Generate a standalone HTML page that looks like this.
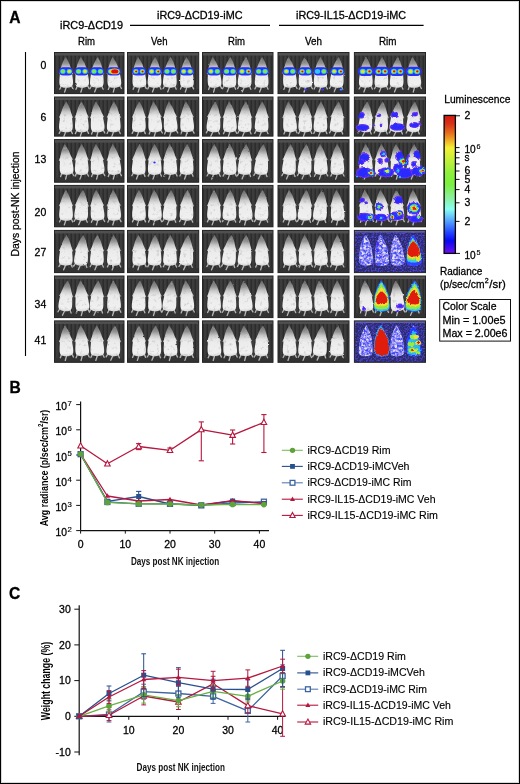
<!DOCTYPE html>
<html><head><meta charset="utf-8"><style>
html,body{margin:0;padding:0;background:#fff;}
svg{display:block;font-family:"Liberation Sans", sans-serif;will-change:transform;}
</style></head><body>
<svg width="520" height="784" viewBox="0 0 520 784">
<defs>
<filter id="bl" x="-30%" y="-30%" width="160%" height="160%"><feGaussianBlur stdDeviation="0.55"/></filter>
<filter id="bl2" x="-50%" y="-50%" width="200%" height="200%"><feGaussianBlur stdDeviation="1.1"/></filter>
<linearGradient id="mg" x1="0" y1="0" x2="0" y2="1"><stop offset="0" stop-color="#686868"/><stop offset="0.2" stop-color="#929292"/><stop offset="0.33" stop-color="#c8c8c8"/><stop offset="0.46" stop-color="#e6e6e6"/><stop offset="0.55" stop-color="#ececec"/><stop offset="0.9" stop-color="#f0f0f0"/><stop offset="1" stop-color="#d4d4d4"/></linearGradient>
<filter id="mtex" x="-5%" y="-5%" width="110%" height="110%" color-interpolation-filters="sRGB"><feTurbulence type="fractalNoise" baseFrequency="0.28" numOctaves="2" seed="21" result="dt"/><feDisplacementMap in="SourceGraphic" in2="dt" scale="1.6" xChannelSelector="R" yChannelSelector="G" result="sg"/><feTurbulence type="fractalNoise" baseFrequency="0.3" numOctaves="2" seed="4" result="n"/><feColorMatrix in="n" type="matrix" values="0 0 0 0 0.7  0 0 0 0 0.7  0 0 0 0 0.7  -2.0 0 0 0 0.84" result="g"/><feComposite in="g" in2="sg" operator="in" result="gs"/><feMerge result="m"><feMergeNode in="sg"/><feMergeNode in="gs"/></feMerge><feGaussianBlur in="m" stdDeviation="0.62"/></filter>
<filter id="spk" x="0" y="0" width="100%" height="100%" color-interpolation-filters="sRGB"><feTurbulence type="fractalNoise" baseFrequency="0.42" numOctaves="2" seed="5" result="n"/><feColorMatrix in="n" type="matrix" values="0 0 0 0 0.24  0 0 0 0 0.3  0 0 0 0 0.95  3.6 0 0 0 -1.45" result="b"/><feColorMatrix in="n" type="matrix" values="0 0 0 0 0.58  0 0 0 0 0.5  0 0 0 0 0.96  0 3.6 0 0 -1.4" result="p"/><feComposite in="b" in2="SourceAlpha" operator="in" result="bs"/><feComposite in="p" in2="SourceAlpha" operator="in" result="ps"/><feMerge result="m"><feMergeNode in="SourceGraphic"/><feMergeNode in="ps"/><feMergeNode in="bs"/></feMerge><feGaussianBlur in="m" stdDeviation="0.5"/></filter>
<filter id="spk2" x="0" y="0" width="100%" height="100%" color-interpolation-filters="sRGB"><feTurbulence type="fractalNoise" baseFrequency="0.6" numOctaves="2" seed="9" result="n"/><feColorMatrix in="n" type="matrix" values="0 0 0 0 0.24  0 0 0 0 0.26  0 0 0 0 0.9  3.2 0 0 0 -1.55" result="b"/><feColorMatrix in="n" type="matrix" values="0 0 0 0 0.4  0 0 0 0 0.3  0 0 0 0 0.8  0 3.2 0 0 -1.55" result="p"/><feComposite in="b" in2="SourceAlpha" operator="in" result="bs"/><feComposite in="p" in2="SourceAlpha" operator="in" result="ps"/><feMerge result="m"><feMergeNode in="SourceGraphic"/><feMergeNode in="ps"/><feMergeNode in="bs"/></feMerge><feGaussianBlur in="m" stdDeviation="0.5"/></filter>
<radialGradient id="hot" cx="50%" cy="50%" r="50%"><stop offset="0" stop-color="#e01010"/><stop offset="0.3" stop-color="#e8d020"/><stop offset="0.5" stop-color="#70e040"/><stop offset="0.68" stop-color="#30c8f0"/><stop offset="0.82" stop-color="#1838ff"/><stop offset="1" stop-color="#2010f0" stop-opacity="0"/></radialGradient>
<radialGradient id="warm" cx="50%" cy="50%" r="50%"><stop offset="0" stop-color="#a0e040"/><stop offset="0.45" stop-color="#40d0c0"/><stop offset="0.75" stop-color="#1840ff"/><stop offset="1" stop-color="#2010f0" stop-opacity="0"/></radialGradient>
<radialGradient id="cool" cx="50%" cy="50%" r="50%"><stop offset="0" stop-color="#3030ff"/><stop offset="0.7" stop-color="#5020f0" stop-opacity="0.9"/><stop offset="1" stop-color="#6020e0" stop-opacity="0"/></radialGradient>
<linearGradient id="cbar" x1="0" y1="0" x2="0" y2="1">
 <stop offset="0" stop-color="#d3190f"/><stop offset="0.06" stop-color="#d8301a"/><stop offset="0.13" stop-color="#e6701e"/><stop offset="0.19" stop-color="#f0b82a"/><stop offset="0.235" stop-color="#f4f034"/><stop offset="0.33" stop-color="#c0f03a"/><stop offset="0.42" stop-color="#8cf03c"/><stop offset="0.5" stop-color="#7cf040"/><stop offset="0.6" stop-color="#8cf0a0"/><stop offset="0.68" stop-color="#88fff0"/><stop offset="0.76" stop-color="#58a8ff"/><stop offset="0.85" stop-color="#2244ff"/><stop offset="0.91" stop-color="#0808f0"/><stop offset="1" stop-color="#7010f0"/>
</linearGradient>
<pattern id="stripes" width="4" height="50" patternUnits="userSpaceOnUse"><rect width="4" height="50" fill="#3c3c3c"/><rect x="2.5" width="1.5" height="50" fill="#2c2c2c"/></pattern>
<filter id="irr" x="-10%" y="-10%" width="120%" height="120%"><feTurbulence type="fractalNoise" baseFrequency="0.35" numOctaves="2" seed="11" result="t"/><feDisplacementMap in="SourceGraphic" in2="t" scale="3" xChannelSelector="R" yChannelSelector="G" result="d"/><feGaussianBlur in="d" stdDeviation="0.45"/></filter>
<filter id="speck" x="0" y="0" width="100%" height="100%"><feTurbulence type="fractalNoise" baseFrequency="0.9" numOctaves="2" seed="3"/><feColorMatrix type="matrix" values="0 0 0 0 0.45  0 0 0 0 0.45  0 0 0 0 1  0 0 0 2.2 -1.0"/><feComposite in2="SourceGraphic" operator="in"/></filter>
<path id="mp" d="M0.50,0.00 C0.75,0.38 1.15,1.33 1.50,2.00 C1.85,2.67 2.27,3.33 2.60,4.00 C2.93,4.67 3.23,5.33 3.50,6.00 C3.77,6.67 3.98,7.33 4.20,8.00 C4.42,8.67 4.58,9.33 4.80,10.00 C5.02,10.67 5.32,11.33 5.50,12.00 C5.68,12.67 5.77,13.00 5.90,14.00 C6.03,15.00 6.15,16.50 6.30,18.00 C6.45,19.50 6.75,21.50 6.80,23.00 C6.85,24.50 6.92,25.95 6.60,27.00 C6.28,28.05 6.00,28.75 4.90,29.30 C3.80,29.85 1.63,30.30 0.00,30.30 C-1.63,30.30 -3.80,29.85 -4.90,29.30 C-6.00,28.75 -6.28,28.05 -6.60,27.00 C-6.92,25.95 -6.85,24.50 -6.80,23.00 C-6.75,21.50 -6.45,19.50 -6.30,18.00 C-6.15,16.50 -6.03,15.00 -5.90,14.00 C-5.77,13.00 -5.68,12.67 -5.50,12.00 C-5.32,11.33 -5.02,10.67 -4.80,10.00 C-4.58,9.33 -4.42,8.67 -4.20,8.00 C-3.98,7.33 -3.77,6.67 -3.50,6.00 C-3.23,5.33 -2.93,4.67 -2.60,4.00 C-2.27,3.33 -1.85,2.67 -1.50,2.00 C-1.15,1.33 -0.75,0.38 -0.50,0.00 C-0.25,-0.38 -0.17,-0.30 0.00,-0.30 C0.17,-0.30 0.25,-0.38 0.50,0.00 Z"/></defs>
<rect x="0" y="0" width="520" height="784" fill="#fff"/>
<rect x="54.5" y="52.5" width="69.5" height="41.1" fill="url(#stripes)"/>
<rect x="54.5" y="52.5" width="69.5" height="3.0" fill="#505050"/>
<rect x="54.5" y="89.1" width="69.5" height="4.5" fill="#333"/>
<rect x="54.5" y="52.5" width="69.5" height="41.1" fill="none" stroke="#262626" stroke-width="1"/>
<g filter="url(#mtex)">
<g transform="translate(66.0,57.5) rotate(-1.4 0 17)"><path d="M-4.2,26.5 L-6.6,31.5 M4.2,26.5 L6.6,31.5 M0,29.5 L-1.8,34.5 M-4.8,12.5 L-6.4,15.2 M4.8,12.5 L6.4,15.2" stroke="#b8b8b8" stroke-width="1.3" stroke-linecap="round" fill="none"/><use href="#mp" fill="url(#mg)"/></g>
<g transform="translate(81.7,57.5) rotate(-3.3 0 17)"><path d="M-4.2,26.5 L-6.6,31.5 M4.2,26.5 L6.6,31.5 M0,29.5 L-1.8,34.5 M-4.8,12.5 L-6.4,15.2 M4.8,12.5 L6.4,15.2" stroke="#b8b8b8" stroke-width="1.3" stroke-linecap="round" fill="none"/><use href="#mp" fill="url(#mg)"/></g>
<g transform="translate(97.1,57.5) rotate(2.2 0 17)"><path d="M-4.2,26.5 L-6.6,31.5 M4.2,26.5 L6.6,31.5 M0,29.5 L-1.8,34.5 M-4.8,12.5 L-6.4,15.2 M4.8,12.5 L6.4,15.2" stroke="#b8b8b8" stroke-width="1.3" stroke-linecap="round" fill="none"/><use href="#mp" fill="url(#mg)"/></g>
<g transform="translate(113.8,57.5) rotate(-4.2 0 17)"><path d="M-4.2,26.5 L-6.6,31.5 M4.2,26.5 L6.6,31.5 M0,29.5 L-1.8,34.5 M-4.8,12.5 L-6.4,15.2 M4.8,12.5 L6.4,15.2" stroke="#b8b8b8" stroke-width="1.3" stroke-linecap="round" fill="none"/><use href="#mp" fill="url(#mg)"/></g>
</g>
<g filter="url(#bl)">
<rect x="58.9" y="67.2" width="14.2" height="8.4" rx="4.2" fill="#4a28f0"/>
<rect x="59.5" y="67.8" width="13.0" height="7.2" rx="3.6" fill="#1a34ff"/>
<ellipse cx="62.9" cy="71.4" rx="2.70" ry="2.40" fill="#30c4fa"/>
<ellipse cx="62.9" cy="71.4" rx="2.00" ry="1.80" fill="#80e840"/>
<ellipse cx="69.3" cy="71.4" rx="2.70" ry="2.40" fill="#30c4fa"/>
<ellipse cx="69.3" cy="71.4" rx="2.00" ry="1.80" fill="#80e840"/>
<ellipse cx="69.3" cy="71.4" rx="1.50" ry="1.35" fill="#f0e020"/>
</g>
<g filter="url(#bl)">
<rect x="74.6" y="67.2" width="14.2" height="8.4" rx="4.2" fill="#4a28f0"/>
<rect x="75.2" y="67.8" width="13.0" height="7.2" rx="3.6" fill="#1a34ff"/>
<ellipse cx="78.6" cy="71.4" rx="2.70" ry="2.40" fill="#30c4fa"/>
<ellipse cx="78.6" cy="71.4" rx="2.00" ry="1.80" fill="#80e840"/>
<ellipse cx="85.0" cy="71.4" rx="2.70" ry="2.40" fill="#30c4fa"/>
<ellipse cx="85.0" cy="71.4" rx="2.00" ry="1.80" fill="#80e840"/>
<ellipse cx="85.0" cy="71.4" rx="1.50" ry="1.35" fill="#f0e020"/>
</g>
<g filter="url(#bl)">
<rect x="90.0" y="67.2" width="14.2" height="8.4" rx="4.2" fill="#4a28f0"/>
<rect x="90.6" y="67.8" width="13.0" height="7.2" rx="3.6" fill="#1a34ff"/>
<ellipse cx="94.0" cy="71.4" rx="2.70" ry="2.40" fill="#30c4fa"/>
<ellipse cx="94.0" cy="71.4" rx="2.00" ry="1.80" fill="#80e840"/>
<ellipse cx="100.4" cy="71.4" rx="2.70" ry="2.40" fill="#30c4fa"/>
<ellipse cx="100.4" cy="71.4" rx="2.00" ry="1.80" fill="#80e840"/>
</g>
<g filter="url(#bl)">
<rect x="106.7" y="67.2" width="14.2" height="8.4" rx="4.2" fill="#4a28f0"/>
<rect x="107.3" y="67.8" width="13.0" height="7.2" rx="3.6" fill="#1a34ff"/>
<ellipse cx="110.7" cy="71.4" rx="2.70" ry="2.40" fill="#30c4fa"/>
<ellipse cx="110.7" cy="71.4" rx="2.00" ry="1.80" fill="#80e840"/>
<ellipse cx="110.7" cy="71.4" rx="1.50" ry="1.35" fill="#f0e020"/>
<ellipse cx="111.0" cy="71.4" rx="1.10" ry="1.00" fill="#e01010"/>
<ellipse cx="117.1" cy="71.4" rx="2.70" ry="2.40" fill="#30c4fa"/>
<ellipse cx="117.1" cy="71.4" rx="2.00" ry="1.80" fill="#80e840"/>
<ellipse cx="117.1" cy="71.4" rx="1.50" ry="1.35" fill="#f0e020"/>
<ellipse cx="117.4" cy="71.4" rx="1.10" ry="1.00" fill="#e01010"/>
<ellipse cx="114.6" cy="71.4" rx="4.6" ry="2.9" fill="#f0e020"/>
<ellipse cx="114.8" cy="71.4" rx="3.6" ry="2.2" fill="#e01010"/>
</g>
<rect x="54.5" y="97" width="69.5" height="39.1" fill="url(#stripes)"/>
<rect x="54.5" y="97" width="69.5" height="3.0" fill="#505050"/>
<rect x="54.5" y="131.6" width="69.5" height="4.5" fill="#333"/>
<rect x="54.5" y="97" width="69.5" height="39.1" fill="none" stroke="#262626" stroke-width="1"/>
<g filter="url(#mtex)">
<g transform="translate(66.0,102.0) rotate(0.9 0 17)"><path d="M-4.2,26.5 L-6.6,31.5 M4.2,26.5 L6.6,31.5 M0,29.5 L-1.8,34.5 M-4.8,12.5 L-6.4,15.2 M4.8,12.5 L6.4,15.2" stroke="#b8b8b8" stroke-width="1.3" stroke-linecap="round" fill="none"/><use href="#mp" fill="url(#mg)"/></g>
<g transform="translate(81.7,102.0) rotate(-1.0 0 17)"><path d="M-4.2,26.5 L-6.6,31.5 M4.2,26.5 L6.6,31.5 M0,29.5 L-1.8,34.5 M-4.8,12.5 L-6.4,15.2 M4.8,12.5 L6.4,15.2" stroke="#b8b8b8" stroke-width="1.3" stroke-linecap="round" fill="none"/><use href="#mp" fill="url(#mg)"/></g>
<g transform="translate(97.1,102.0) rotate(-4.4 0 17)"><path d="M-4.2,26.5 L-6.6,31.5 M4.2,26.5 L6.6,31.5 M0,29.5 L-1.8,34.5 M-4.8,12.5 L-6.4,15.2 M4.8,12.5 L6.4,15.2" stroke="#b8b8b8" stroke-width="1.3" stroke-linecap="round" fill="none"/><use href="#mp" fill="url(#mg)"/></g>
<g transform="translate(113.8,102.0) rotate(0.6 0 17)"><path d="M-4.2,26.5 L-6.6,31.5 M4.2,26.5 L6.6,31.5 M0,29.5 L-1.8,34.5 M-4.8,12.5 L-6.4,15.2 M4.8,12.5 L6.4,15.2" stroke="#b8b8b8" stroke-width="1.3" stroke-linecap="round" fill="none"/><use href="#mp" fill="url(#mg)"/></g>
</g>
<rect x="54.5" y="139.6" width="69.5" height="42.6" fill="url(#stripes)"/>
<rect x="54.5" y="139.6" width="69.5" height="3.0" fill="#505050"/>
<rect x="54.5" y="177.7" width="69.5" height="4.5" fill="#333"/>
<rect x="54.5" y="139.6" width="69.5" height="42.6" fill="none" stroke="#262626" stroke-width="1"/>
<g filter="url(#mtex)">
<g transform="translate(66.0,144.6) rotate(-4.6 0 17)"><path d="M-4.2,26.5 L-6.6,31.5 M4.2,26.5 L6.6,31.5 M0,29.5 L-1.8,34.5 M-4.8,12.5 L-6.4,15.2 M4.8,12.5 L6.4,15.2" stroke="#b8b8b8" stroke-width="1.3" stroke-linecap="round" fill="none"/><use href="#mp" fill="url(#mg)"/></g>
<g transform="translate(81.7,144.6) rotate(-0.2 0 17)"><path d="M-4.2,26.5 L-6.6,31.5 M4.2,26.5 L6.6,31.5 M0,29.5 L-1.8,34.5 M-4.8,12.5 L-6.4,15.2 M4.8,12.5 L6.4,15.2" stroke="#b8b8b8" stroke-width="1.3" stroke-linecap="round" fill="none"/><use href="#mp" fill="url(#mg)"/></g>
<g transform="translate(97.1,144.6) rotate(-4.2 0 17)"><path d="M-4.2,26.5 L-6.6,31.5 M4.2,26.5 L6.6,31.5 M0,29.5 L-1.8,34.5 M-4.8,12.5 L-6.4,15.2 M4.8,12.5 L6.4,15.2" stroke="#b8b8b8" stroke-width="1.3" stroke-linecap="round" fill="none"/><use href="#mp" fill="url(#mg)"/></g>
<g transform="translate(113.8,144.6) rotate(-4.0 0 17)"><path d="M-4.2,26.5 L-6.6,31.5 M4.2,26.5 L6.6,31.5 M0,29.5 L-1.8,34.5 M-4.8,12.5 L-6.4,15.2 M4.8,12.5 L6.4,15.2" stroke="#b8b8b8" stroke-width="1.3" stroke-linecap="round" fill="none"/><use href="#mp" fill="url(#mg)"/></g>
</g>
<rect x="54.5" y="185.4" width="69.5" height="41.4" fill="url(#stripes)"/>
<rect x="54.5" y="185.4" width="69.5" height="3.0" fill="#505050"/>
<rect x="54.5" y="222.3" width="69.5" height="4.5" fill="#333"/>
<rect x="54.5" y="185.4" width="69.5" height="41.4" fill="none" stroke="#262626" stroke-width="1"/>
<g filter="url(#mtex)">
<g transform="translate(66.0,190.4) rotate(-0.3 0 17)"><path d="M-4.2,26.5 L-6.6,31.5 M4.2,26.5 L6.6,31.5 M0,29.5 L-1.8,34.5 M-4.8,12.5 L-6.4,15.2 M4.8,12.5 L6.4,15.2" stroke="#b8b8b8" stroke-width="1.3" stroke-linecap="round" fill="none"/><use href="#mp" fill="url(#mg)"/></g>
<g transform="translate(81.7,190.4) rotate(4.1 0 17)"><path d="M-4.2,26.5 L-6.6,31.5 M4.2,26.5 L6.6,31.5 M0,29.5 L-1.8,34.5 M-4.8,12.5 L-6.4,15.2 M4.8,12.5 L6.4,15.2" stroke="#b8b8b8" stroke-width="1.3" stroke-linecap="round" fill="none"/><use href="#mp" fill="url(#mg)"/></g>
<g transform="translate(97.1,190.4) rotate(-3.6 0 17)"><path d="M-4.2,26.5 L-6.6,31.5 M4.2,26.5 L6.6,31.5 M0,29.5 L-1.8,34.5 M-4.8,12.5 L-6.4,15.2 M4.8,12.5 L6.4,15.2" stroke="#b8b8b8" stroke-width="1.3" stroke-linecap="round" fill="none"/><use href="#mp" fill="url(#mg)"/></g>
<g transform="translate(113.8,190.4) rotate(-2.5 0 17)"><path d="M-4.2,26.5 L-6.6,31.5 M4.2,26.5 L6.6,31.5 M0,29.5 L-1.8,34.5 M-4.8,12.5 L-6.4,15.2 M4.8,12.5 L6.4,15.2" stroke="#b8b8b8" stroke-width="1.3" stroke-linecap="round" fill="none"/><use href="#mp" fill="url(#mg)"/></g>
</g>
<rect x="54.5" y="230.4" width="69.5" height="42.2" fill="url(#stripes)"/>
<rect x="54.5" y="230.4" width="69.5" height="3.0" fill="#505050"/>
<rect x="54.5" y="268.1" width="69.5" height="4.5" fill="#333"/>
<rect x="54.5" y="230.4" width="69.5" height="42.2" fill="none" stroke="#262626" stroke-width="1"/>
<g filter="url(#mtex)">
<g transform="translate(66.0,235.4) rotate(1.9 0 17)"><path d="M-4.2,26.5 L-6.6,31.5 M4.2,26.5 L6.6,31.5 M0,29.5 L-1.8,34.5 M-4.8,12.5 L-6.4,15.2 M4.8,12.5 L6.4,15.2" stroke="#b8b8b8" stroke-width="1.3" stroke-linecap="round" fill="none"/><use href="#mp" fill="url(#mg)"/></g>
<g transform="translate(81.7,235.4) rotate(5.4 0 17)"><path d="M-4.2,26.5 L-6.6,31.5 M4.2,26.5 L6.6,31.5 M0,29.5 L-1.8,34.5 M-4.8,12.5 L-6.4,15.2 M4.8,12.5 L6.4,15.2" stroke="#b8b8b8" stroke-width="1.3" stroke-linecap="round" fill="none"/><use href="#mp" fill="url(#mg)"/></g>
<g transform="translate(97.1,235.4) rotate(1.3 0 17)"><path d="M-4.2,26.5 L-6.6,31.5 M4.2,26.5 L6.6,31.5 M0,29.5 L-1.8,34.5 M-4.8,12.5 L-6.4,15.2 M4.8,12.5 L6.4,15.2" stroke="#b8b8b8" stroke-width="1.3" stroke-linecap="round" fill="none"/><use href="#mp" fill="url(#mg)"/></g>
<g transform="translate(113.8,235.4) rotate(-0.6 0 17)"><path d="M-4.2,26.5 L-6.6,31.5 M4.2,26.5 L6.6,31.5 M0,29.5 L-1.8,34.5 M-4.8,12.5 L-6.4,15.2 M4.8,12.5 L6.4,15.2" stroke="#b8b8b8" stroke-width="1.3" stroke-linecap="round" fill="none"/><use href="#mp" fill="url(#mg)"/></g>
</g>
<rect x="54.5" y="276" width="69.5" height="41.6" fill="url(#stripes)"/>
<rect x="54.5" y="276" width="69.5" height="3.0" fill="#505050"/>
<rect x="54.5" y="313.1" width="69.5" height="4.5" fill="#333"/>
<rect x="54.5" y="276" width="69.5" height="41.6" fill="none" stroke="#262626" stroke-width="1"/>
<g filter="url(#mtex)">
<g transform="translate(66.0,281.0) rotate(5.7 0 17)"><path d="M-4.2,26.5 L-6.6,31.5 M4.2,26.5 L6.6,31.5 M0,29.5 L-1.8,34.5 M-4.8,12.5 L-6.4,15.2 M4.8,12.5 L6.4,15.2" stroke="#b8b8b8" stroke-width="1.3" stroke-linecap="round" fill="none"/><use href="#mp" fill="url(#mg)"/></g>
<g transform="translate(81.7,281.0) rotate(-4.5 0 17)"><path d="M-4.2,26.5 L-6.6,31.5 M4.2,26.5 L6.6,31.5 M0,29.5 L-1.8,34.5 M-4.8,12.5 L-6.4,15.2 M4.8,12.5 L6.4,15.2" stroke="#b8b8b8" stroke-width="1.3" stroke-linecap="round" fill="none"/><use href="#mp" fill="url(#mg)"/></g>
<g transform="translate(97.1,281.0) rotate(4.4 0 17)"><path d="M-4.2,26.5 L-6.6,31.5 M4.2,26.5 L6.6,31.5 M0,29.5 L-1.8,34.5 M-4.8,12.5 L-6.4,15.2 M4.8,12.5 L6.4,15.2" stroke="#b8b8b8" stroke-width="1.3" stroke-linecap="round" fill="none"/><use href="#mp" fill="url(#mg)"/></g>
<g transform="translate(113.8,281.0) rotate(-1.8 0 17)"><path d="M-4.2,26.5 L-6.6,31.5 M4.2,26.5 L6.6,31.5 M0,29.5 L-1.8,34.5 M-4.8,12.5 L-6.4,15.2 M4.8,12.5 L6.4,15.2" stroke="#b8b8b8" stroke-width="1.3" stroke-linecap="round" fill="none"/><use href="#mp" fill="url(#mg)"/></g>
</g>
<rect x="54.5" y="320.9" width="69.5" height="41.4" fill="url(#stripes)"/>
<rect x="54.5" y="320.9" width="69.5" height="3.0" fill="#505050"/>
<rect x="54.5" y="357.8" width="69.5" height="4.5" fill="#333"/>
<rect x="54.5" y="320.9" width="69.5" height="41.4" fill="none" stroke="#262626" stroke-width="1"/>
<g filter="url(#mtex)">
<g transform="translate(66.0,325.9) rotate(-3.4 0 17)"><path d="M-4.2,26.5 L-6.6,31.5 M4.2,26.5 L6.6,31.5 M0,29.5 L-1.8,34.5 M-4.8,12.5 L-6.4,15.2 M4.8,12.5 L6.4,15.2" stroke="#b8b8b8" stroke-width="1.3" stroke-linecap="round" fill="none"/><use href="#mp" fill="url(#mg)"/></g>
<g transform="translate(81.7,325.9) rotate(-3.7 0 17)"><path d="M-4.2,26.5 L-6.6,31.5 M4.2,26.5 L6.6,31.5 M0,29.5 L-1.8,34.5 M-4.8,12.5 L-6.4,15.2 M4.8,12.5 L6.4,15.2" stroke="#b8b8b8" stroke-width="1.3" stroke-linecap="round" fill="none"/><use href="#mp" fill="url(#mg)"/></g>
<g transform="translate(97.1,325.9) rotate(-1.6 0 17)"><path d="M-4.2,26.5 L-6.6,31.5 M4.2,26.5 L6.6,31.5 M0,29.5 L-1.8,34.5 M-4.8,12.5 L-6.4,15.2 M4.8,12.5 L6.4,15.2" stroke="#b8b8b8" stroke-width="1.3" stroke-linecap="round" fill="none"/><use href="#mp" fill="url(#mg)"/></g>
<g transform="translate(113.8,325.9) rotate(4.0 0 17)"><path d="M-4.2,26.5 L-6.6,31.5 M4.2,26.5 L6.6,31.5 M0,29.5 L-1.8,34.5 M-4.8,12.5 L-6.4,15.2 M4.8,12.5 L6.4,15.2" stroke="#b8b8b8" stroke-width="1.3" stroke-linecap="round" fill="none"/><use href="#mp" fill="url(#mg)"/></g>
</g>
<rect x="127.5" y="52.5" width="71.2" height="41.1" fill="url(#stripes)"/>
<rect x="127.5" y="52.5" width="71.2" height="3.0" fill="#505050"/>
<rect x="127.5" y="89.1" width="71.2" height="4.5" fill="#333"/>
<rect x="127.5" y="52.5" width="71.2" height="41.1" fill="none" stroke="#262626" stroke-width="1"/>
<g filter="url(#mtex)">
<g transform="translate(139.0,57.5) rotate(-3.0 0 17)"><path d="M-4.2,26.5 L-6.6,31.5 M4.2,26.5 L6.6,31.5 M0,29.5 L-1.8,34.5 M-4.8,12.5 L-6.4,15.2 M4.8,12.5 L6.4,15.2" stroke="#b8b8b8" stroke-width="1.3" stroke-linecap="round" fill="none"/><use href="#mp" fill="url(#mg)"/></g>
<g transform="translate(154.7,57.5) rotate(1.4 0 17)"><path d="M-4.2,26.5 L-6.6,31.5 M4.2,26.5 L6.6,31.5 M0,29.5 L-1.8,34.5 M-4.8,12.5 L-6.4,15.2 M4.8,12.5 L6.4,15.2" stroke="#b8b8b8" stroke-width="1.3" stroke-linecap="round" fill="none"/><use href="#mp" fill="url(#mg)"/></g>
<g transform="translate(170.1,57.5) rotate(2.0 0 17)"><path d="M-4.2,26.5 L-6.6,31.5 M4.2,26.5 L6.6,31.5 M0,29.5 L-1.8,34.5 M-4.8,12.5 L-6.4,15.2 M4.8,12.5 L6.4,15.2" stroke="#b8b8b8" stroke-width="1.3" stroke-linecap="round" fill="none"/><use href="#mp" fill="url(#mg)"/></g>
<g transform="translate(186.8,57.5) rotate(-0.9 0 17)"><path d="M-4.2,26.5 L-6.6,31.5 M4.2,26.5 L6.6,31.5 M0,29.5 L-1.8,34.5 M-4.8,12.5 L-6.4,15.2 M4.8,12.5 L6.4,15.2" stroke="#b8b8b8" stroke-width="1.3" stroke-linecap="round" fill="none"/><use href="#mp" fill="url(#mg)"/></g>
</g>
<g filter="url(#bl)">
<rect x="131.9" y="67.2" width="14.2" height="8.4" rx="4.2" fill="#4a28f0"/>
<rect x="132.5" y="67.8" width="13.0" height="7.2" rx="3.6" fill="#1a34ff"/>
<ellipse cx="135.9" cy="71.4" rx="2.70" ry="2.40" fill="#30c4fa"/>
<ellipse cx="135.9" cy="71.4" rx="2.00" ry="1.80" fill="#80e840"/>
<ellipse cx="135.9" cy="71.4" rx="1.50" ry="1.35" fill="#f0e020"/>
<ellipse cx="136.2" cy="71.4" rx="1.10" ry="1.00" fill="#e01010"/>
<ellipse cx="142.3" cy="71.4" rx="2.70" ry="2.40" fill="#30c4fa"/>
<ellipse cx="142.3" cy="71.4" rx="2.00" ry="1.80" fill="#80e840"/>
<ellipse cx="142.3" cy="71.4" rx="1.50" ry="1.35" fill="#f0e020"/>
<ellipse cx="142.6" cy="71.4" rx="1.10" ry="1.00" fill="#e01010"/>
</g>
<g filter="url(#bl)">
<rect x="147.6" y="67.2" width="14.2" height="8.4" rx="4.2" fill="#4a28f0"/>
<rect x="148.2" y="67.8" width="13.0" height="7.2" rx="3.6" fill="#1a34ff"/>
<ellipse cx="151.6" cy="71.4" rx="2.70" ry="2.40" fill="#30c4fa"/>
<ellipse cx="151.6" cy="71.4" rx="2.00" ry="1.80" fill="#80e840"/>
<ellipse cx="151.6" cy="71.4" rx="1.50" ry="1.35" fill="#f0e020"/>
<ellipse cx="158.0" cy="71.4" rx="2.70" ry="2.40" fill="#30c4fa"/>
<ellipse cx="158.0" cy="71.4" rx="2.00" ry="1.80" fill="#80e840"/>
<ellipse cx="158.0" cy="71.4" rx="1.50" ry="1.35" fill="#f0e020"/>
<ellipse cx="158.3" cy="71.4" rx="1.10" ry="1.00" fill="#e01010"/>
</g>
<g filter="url(#bl)">
<rect x="163.0" y="67.2" width="14.2" height="8.4" rx="4.2" fill="#4a28f0"/>
<rect x="163.6" y="67.8" width="13.0" height="7.2" rx="3.6" fill="#1a34ff"/>
<ellipse cx="167.0" cy="71.4" rx="2.70" ry="2.40" fill="#30c4fa"/>
<ellipse cx="167.0" cy="71.4" rx="2.00" ry="1.80" fill="#80e840"/>
<ellipse cx="173.4" cy="71.4" rx="2.70" ry="2.40" fill="#30c4fa"/>
<ellipse cx="173.4" cy="71.4" rx="2.00" ry="1.80" fill="#80e840"/>
</g>
<g filter="url(#bl)">
<rect x="179.7" y="67.2" width="14.2" height="8.4" rx="4.2" fill="#4a28f0"/>
<rect x="180.3" y="67.8" width="13.0" height="7.2" rx="3.6" fill="#1a34ff"/>
<ellipse cx="183.7" cy="71.4" rx="2.70" ry="2.40" fill="#30c4fa"/>
<ellipse cx="183.7" cy="71.4" rx="2.00" ry="1.80" fill="#80e840"/>
<ellipse cx="183.7" cy="71.4" rx="1.50" ry="1.35" fill="#f0e020"/>
<ellipse cx="190.1" cy="71.4" rx="2.70" ry="2.40" fill="#30c4fa"/>
<ellipse cx="190.1" cy="71.4" rx="2.00" ry="1.80" fill="#80e840"/>
<ellipse cx="190.1" cy="71.4" rx="1.50" ry="1.35" fill="#f0e020"/>
</g>
<rect x="127.5" y="97" width="71.2" height="39.1" fill="url(#stripes)"/>
<rect x="127.5" y="97" width="71.2" height="3.0" fill="#505050"/>
<rect x="127.5" y="131.6" width="71.2" height="4.5" fill="#333"/>
<rect x="127.5" y="97" width="71.2" height="39.1" fill="none" stroke="#262626" stroke-width="1"/>
<g filter="url(#mtex)">
<g transform="translate(139.0,102.0) rotate(1.0 0 17)"><path d="M-4.2,26.5 L-6.6,31.5 M4.2,26.5 L6.6,31.5 M0,29.5 L-1.8,34.5 M-4.8,12.5 L-6.4,15.2 M4.8,12.5 L6.4,15.2" stroke="#b8b8b8" stroke-width="1.3" stroke-linecap="round" fill="none"/><use href="#mp" fill="url(#mg)"/></g>
<g transform="translate(154.7,102.0) rotate(-4.3 0 17)"><path d="M-4.2,26.5 L-6.6,31.5 M4.2,26.5 L6.6,31.5 M0,29.5 L-1.8,34.5 M-4.8,12.5 L-6.4,15.2 M4.8,12.5 L6.4,15.2" stroke="#b8b8b8" stroke-width="1.3" stroke-linecap="round" fill="none"/><use href="#mp" fill="url(#mg)"/></g>
<g transform="translate(170.1,102.0) rotate(-4.3 0 17)"><path d="M-4.2,26.5 L-6.6,31.5 M4.2,26.5 L6.6,31.5 M0,29.5 L-1.8,34.5 M-4.8,12.5 L-6.4,15.2 M4.8,12.5 L6.4,15.2" stroke="#b8b8b8" stroke-width="1.3" stroke-linecap="round" fill="none"/><use href="#mp" fill="url(#mg)"/></g>
<g transform="translate(186.8,102.0) rotate(-2.7 0 17)"><path d="M-4.2,26.5 L-6.6,31.5 M4.2,26.5 L6.6,31.5 M0,29.5 L-1.8,34.5 M-4.8,12.5 L-6.4,15.2 M4.8,12.5 L6.4,15.2" stroke="#b8b8b8" stroke-width="1.3" stroke-linecap="round" fill="none"/><use href="#mp" fill="url(#mg)"/></g>
</g>
<rect x="127.5" y="139.6" width="71.2" height="42.6" fill="url(#stripes)"/>
<rect x="127.5" y="139.6" width="71.2" height="3.0" fill="#505050"/>
<rect x="127.5" y="177.7" width="71.2" height="4.5" fill="#333"/>
<rect x="127.5" y="139.6" width="71.2" height="42.6" fill="none" stroke="#262626" stroke-width="1"/>
<g filter="url(#mtex)">
<g transform="translate(139.0,144.6) rotate(2.5 0 17)"><path d="M-4.2,26.5 L-6.6,31.5 M4.2,26.5 L6.6,31.5 M0,29.5 L-1.8,34.5 M-4.8,12.5 L-6.4,15.2 M4.8,12.5 L6.4,15.2" stroke="#b8b8b8" stroke-width="1.3" stroke-linecap="round" fill="none"/><use href="#mp" fill="url(#mg)"/></g>
<g transform="translate(154.7,144.6) rotate(-0.3 0 17)"><path d="M-4.2,26.5 L-6.6,31.5 M4.2,26.5 L6.6,31.5 M0,29.5 L-1.8,34.5 M-4.8,12.5 L-6.4,15.2 M4.8,12.5 L6.4,15.2" stroke="#b8b8b8" stroke-width="1.3" stroke-linecap="round" fill="none"/><use href="#mp" fill="url(#mg)"/></g>
<g transform="translate(170.1,144.6) rotate(-1.5 0 17)"><path d="M-4.2,26.5 L-6.6,31.5 M4.2,26.5 L6.6,31.5 M0,29.5 L-1.8,34.5 M-4.8,12.5 L-6.4,15.2 M4.8,12.5 L6.4,15.2" stroke="#b8b8b8" stroke-width="1.3" stroke-linecap="round" fill="none"/><use href="#mp" fill="url(#mg)"/></g>
<g transform="translate(186.8,144.6) rotate(1.4 0 17)"><path d="M-4.2,26.5 L-6.6,31.5 M4.2,26.5 L6.6,31.5 M0,29.5 L-1.8,34.5 M-4.8,12.5 L-6.4,15.2 M4.8,12.5 L6.4,15.2" stroke="#b8b8b8" stroke-width="1.3" stroke-linecap="round" fill="none"/><use href="#mp" fill="url(#mg)"/></g>
</g>
<ellipse cx="154.5" cy="162.5" rx="1.2" ry="1.1" fill="#2a30ff" opacity="1" filter="url(#bl)"/>
<rect x="127.5" y="185.4" width="71.2" height="41.4" fill="url(#stripes)"/>
<rect x="127.5" y="185.4" width="71.2" height="3.0" fill="#505050"/>
<rect x="127.5" y="222.3" width="71.2" height="4.5" fill="#333"/>
<rect x="127.5" y="185.4" width="71.2" height="41.4" fill="none" stroke="#262626" stroke-width="1"/>
<g filter="url(#mtex)">
<g transform="translate(139.0,190.4) rotate(-0.0 0 17)"><path d="M-4.2,26.5 L-6.6,31.5 M4.2,26.5 L6.6,31.5 M0,29.5 L-1.8,34.5 M-4.8,12.5 L-6.4,15.2 M4.8,12.5 L6.4,15.2" stroke="#b8b8b8" stroke-width="1.3" stroke-linecap="round" fill="none"/><use href="#mp" fill="url(#mg)"/></g>
<g transform="translate(154.7,190.4) rotate(-1.7 0 17)"><path d="M-4.2,26.5 L-6.6,31.5 M4.2,26.5 L6.6,31.5 M0,29.5 L-1.8,34.5 M-4.8,12.5 L-6.4,15.2 M4.8,12.5 L6.4,15.2" stroke="#b8b8b8" stroke-width="1.3" stroke-linecap="round" fill="none"/><use href="#mp" fill="url(#mg)"/></g>
<g transform="translate(170.1,190.4) rotate(3.7 0 17)"><path d="M-4.2,26.5 L-6.6,31.5 M4.2,26.5 L6.6,31.5 M0,29.5 L-1.8,34.5 M-4.8,12.5 L-6.4,15.2 M4.8,12.5 L6.4,15.2" stroke="#b8b8b8" stroke-width="1.3" stroke-linecap="round" fill="none"/><use href="#mp" fill="url(#mg)"/></g>
<g transform="translate(186.8,190.4) rotate(2.7 0 17)"><path d="M-4.2,26.5 L-6.6,31.5 M4.2,26.5 L6.6,31.5 M0,29.5 L-1.8,34.5 M-4.8,12.5 L-6.4,15.2 M4.8,12.5 L6.4,15.2" stroke="#b8b8b8" stroke-width="1.3" stroke-linecap="round" fill="none"/><use href="#mp" fill="url(#mg)"/></g>
</g>
<rect x="127.5" y="230.4" width="71.2" height="42.2" fill="url(#stripes)"/>
<rect x="127.5" y="230.4" width="71.2" height="3.0" fill="#505050"/>
<rect x="127.5" y="268.1" width="71.2" height="4.5" fill="#333"/>
<rect x="127.5" y="230.4" width="71.2" height="42.2" fill="none" stroke="#262626" stroke-width="1"/>
<g filter="url(#mtex)">
<g transform="translate(139.0,235.4) rotate(-2.3 0 17)"><path d="M-4.2,26.5 L-6.6,31.5 M4.2,26.5 L6.6,31.5 M0,29.5 L-1.8,34.5 M-4.8,12.5 L-6.4,15.2 M4.8,12.5 L6.4,15.2" stroke="#b8b8b8" stroke-width="1.3" stroke-linecap="round" fill="none"/><use href="#mp" fill="url(#mg)"/></g>
<g transform="translate(154.7,235.4) rotate(1.3 0 17)"><path d="M-4.2,26.5 L-6.6,31.5 M4.2,26.5 L6.6,31.5 M0,29.5 L-1.8,34.5 M-4.8,12.5 L-6.4,15.2 M4.8,12.5 L6.4,15.2" stroke="#b8b8b8" stroke-width="1.3" stroke-linecap="round" fill="none"/><use href="#mp" fill="url(#mg)"/></g>
<g transform="translate(170.1,235.4) rotate(0.8 0 17)"><path d="M-4.2,26.5 L-6.6,31.5 M4.2,26.5 L6.6,31.5 M0,29.5 L-1.8,34.5 M-4.8,12.5 L-6.4,15.2 M4.8,12.5 L6.4,15.2" stroke="#b8b8b8" stroke-width="1.3" stroke-linecap="round" fill="none"/><use href="#mp" fill="url(#mg)"/></g>
<g transform="translate(186.8,235.4) rotate(4.6 0 17)"><path d="M-4.2,26.5 L-6.6,31.5 M4.2,26.5 L6.6,31.5 M0,29.5 L-1.8,34.5 M-4.8,12.5 L-6.4,15.2 M4.8,12.5 L6.4,15.2" stroke="#b8b8b8" stroke-width="1.3" stroke-linecap="round" fill="none"/><use href="#mp" fill="url(#mg)"/></g>
</g>
<rect x="127.5" y="276" width="71.2" height="41.6" fill="url(#stripes)"/>
<rect x="127.5" y="276" width="71.2" height="3.0" fill="#505050"/>
<rect x="127.5" y="313.1" width="71.2" height="4.5" fill="#333"/>
<rect x="127.5" y="276" width="71.2" height="41.6" fill="none" stroke="#262626" stroke-width="1"/>
<g filter="url(#mtex)">
<g transform="translate(139.0,281.0) rotate(3.0 0 17)"><path d="M-4.2,26.5 L-6.6,31.5 M4.2,26.5 L6.6,31.5 M0,29.5 L-1.8,34.5 M-4.8,12.5 L-6.4,15.2 M4.8,12.5 L6.4,15.2" stroke="#b8b8b8" stroke-width="1.3" stroke-linecap="round" fill="none"/><use href="#mp" fill="url(#mg)"/></g>
<g transform="translate(154.7,281.0) rotate(-1.8 0 17)"><path d="M-4.2,26.5 L-6.6,31.5 M4.2,26.5 L6.6,31.5 M0,29.5 L-1.8,34.5 M-4.8,12.5 L-6.4,15.2 M4.8,12.5 L6.4,15.2" stroke="#b8b8b8" stroke-width="1.3" stroke-linecap="round" fill="none"/><use href="#mp" fill="url(#mg)"/></g>
<g transform="translate(170.1,281.0) rotate(5.8 0 17)"><path d="M-4.2,26.5 L-6.6,31.5 M4.2,26.5 L6.6,31.5 M0,29.5 L-1.8,34.5 M-4.8,12.5 L-6.4,15.2 M4.8,12.5 L6.4,15.2" stroke="#b8b8b8" stroke-width="1.3" stroke-linecap="round" fill="none"/><use href="#mp" fill="url(#mg)"/></g>
<g transform="translate(186.8,281.0) rotate(-3.7 0 17)"><path d="M-4.2,26.5 L-6.6,31.5 M4.2,26.5 L6.6,31.5 M0,29.5 L-1.8,34.5 M-4.8,12.5 L-6.4,15.2 M4.8,12.5 L6.4,15.2" stroke="#b8b8b8" stroke-width="1.3" stroke-linecap="round" fill="none"/><use href="#mp" fill="url(#mg)"/></g>
</g>
<rect x="127.5" y="320.9" width="71.2" height="41.4" fill="url(#stripes)"/>
<rect x="127.5" y="320.9" width="71.2" height="3.0" fill="#505050"/>
<rect x="127.5" y="357.8" width="71.2" height="4.5" fill="#333"/>
<rect x="127.5" y="320.9" width="71.2" height="41.4" fill="none" stroke="#262626" stroke-width="1"/>
<g filter="url(#mtex)">
<g transform="translate(139.0,325.9) rotate(-0.4 0 17)"><path d="M-4.2,26.5 L-6.6,31.5 M4.2,26.5 L6.6,31.5 M0,29.5 L-1.8,34.5 M-4.8,12.5 L-6.4,15.2 M4.8,12.5 L6.4,15.2" stroke="#b8b8b8" stroke-width="1.3" stroke-linecap="round" fill="none"/><use href="#mp" fill="url(#mg)"/></g>
<g transform="translate(154.7,325.9) rotate(3.3 0 17)"><path d="M-4.2,26.5 L-6.6,31.5 M4.2,26.5 L6.6,31.5 M0,29.5 L-1.8,34.5 M-4.8,12.5 L-6.4,15.2 M4.8,12.5 L6.4,15.2" stroke="#b8b8b8" stroke-width="1.3" stroke-linecap="round" fill="none"/><use href="#mp" fill="url(#mg)"/></g>
<g transform="translate(170.1,325.9) rotate(-3.3 0 17)"><path d="M-4.2,26.5 L-6.6,31.5 M4.2,26.5 L6.6,31.5 M0,29.5 L-1.8,34.5 M-4.8,12.5 L-6.4,15.2 M4.8,12.5 L6.4,15.2" stroke="#b8b8b8" stroke-width="1.3" stroke-linecap="round" fill="none"/><use href="#mp" fill="url(#mg)"/></g>
<g transform="translate(186.8,325.9) rotate(0.4 0 17)"><path d="M-4.2,26.5 L-6.6,31.5 M4.2,26.5 L6.6,31.5 M0,29.5 L-1.8,34.5 M-4.8,12.5 L-6.4,15.2 M4.8,12.5 L6.4,15.2" stroke="#b8b8b8" stroke-width="1.3" stroke-linecap="round" fill="none"/><use href="#mp" fill="url(#mg)"/></g>
</g>
<rect x="202.5" y="52.5" width="70.5" height="41.1" fill="url(#stripes)"/>
<rect x="202.5" y="52.5" width="70.5" height="3.0" fill="#505050"/>
<rect x="202.5" y="89.1" width="70.5" height="4.5" fill="#333"/>
<rect x="202.5" y="52.5" width="70.5" height="41.1" fill="none" stroke="#262626" stroke-width="1"/>
<g filter="url(#mtex)">
<g transform="translate(214.0,57.5) rotate(-4.6 0 17)"><path d="M-4.2,26.5 L-6.6,31.5 M4.2,26.5 L6.6,31.5 M0,29.5 L-1.8,34.5 M-4.8,12.5 L-6.4,15.2 M4.8,12.5 L6.4,15.2" stroke="#b8b8b8" stroke-width="1.3" stroke-linecap="round" fill="none"/><use href="#mp" fill="url(#mg)"/></g>
<g transform="translate(229.7,57.5) rotate(2.4 0 17)"><path d="M-4.2,26.5 L-6.6,31.5 M4.2,26.5 L6.6,31.5 M0,29.5 L-1.8,34.5 M-4.8,12.5 L-6.4,15.2 M4.8,12.5 L6.4,15.2" stroke="#b8b8b8" stroke-width="1.3" stroke-linecap="round" fill="none"/><use href="#mp" fill="url(#mg)"/></g>
<g transform="translate(245.1,57.5) rotate(3.4 0 17)"><path d="M-4.2,26.5 L-6.6,31.5 M4.2,26.5 L6.6,31.5 M0,29.5 L-1.8,34.5 M-4.8,12.5 L-6.4,15.2 M4.8,12.5 L6.4,15.2" stroke="#b8b8b8" stroke-width="1.3" stroke-linecap="round" fill="none"/><use href="#mp" fill="url(#mg)"/></g>
<g transform="translate(261.8,57.5) rotate(1.3 0 17)"><path d="M-4.2,26.5 L-6.6,31.5 M4.2,26.5 L6.6,31.5 M0,29.5 L-1.8,34.5 M-4.8,12.5 L-6.4,15.2 M4.8,12.5 L6.4,15.2" stroke="#b8b8b8" stroke-width="1.3" stroke-linecap="round" fill="none"/><use href="#mp" fill="url(#mg)"/></g>
</g>
<g filter="url(#bl)">
<rect x="206.9" y="67.2" width="14.2" height="8.4" rx="4.2" fill="#4a28f0"/>
<rect x="207.5" y="67.8" width="13.0" height="7.2" rx="3.6" fill="#1a34ff"/>
<ellipse cx="210.9" cy="71.4" rx="2.70" ry="2.40" fill="#30c4fa"/>
<ellipse cx="210.9" cy="71.4" rx="2.00" ry="1.80" fill="#80e840"/>
<ellipse cx="210.9" cy="71.4" rx="1.50" ry="1.35" fill="#f0e020"/>
<ellipse cx="217.3" cy="71.4" rx="2.70" ry="2.40" fill="#30c4fa"/>
<ellipse cx="217.3" cy="71.4" rx="2.00" ry="1.80" fill="#80e840"/>
</g>
<g filter="url(#bl)">
<rect x="222.6" y="67.2" width="14.2" height="8.4" rx="4.2" fill="#4a28f0"/>
<rect x="223.2" y="67.8" width="13.0" height="7.2" rx="3.6" fill="#1a34ff"/>
<ellipse cx="226.6" cy="71.4" rx="2.70" ry="2.40" fill="#30c4fa"/>
<ellipse cx="226.6" cy="71.4" rx="2.00" ry="1.80" fill="#80e840"/>
<ellipse cx="233.0" cy="71.4" rx="2.70" ry="2.40" fill="#30c4fa"/>
<ellipse cx="233.0" cy="71.4" rx="2.00" ry="1.80" fill="#80e840"/>
</g>
<g filter="url(#bl)">
<rect x="238.0" y="67.2" width="14.2" height="8.4" rx="4.2" fill="#4a28f0"/>
<rect x="238.6" y="67.8" width="13.0" height="7.2" rx="3.6" fill="#1a34ff"/>
<ellipse cx="242.0" cy="71.4" rx="2.70" ry="2.40" fill="#30c4fa"/>
<ellipse cx="242.0" cy="71.4" rx="2.00" ry="1.80" fill="#80e840"/>
<ellipse cx="242.0" cy="71.4" rx="1.50" ry="1.35" fill="#f0e020"/>
<ellipse cx="248.4" cy="71.4" rx="2.70" ry="2.40" fill="#30c4fa"/>
<ellipse cx="248.4" cy="71.4" rx="2.00" ry="1.80" fill="#80e840"/>
<ellipse cx="248.4" cy="71.4" rx="1.50" ry="1.35" fill="#f0e020"/>
<ellipse cx="248.7" cy="71.4" rx="1.10" ry="1.00" fill="#e01010"/>
</g>
<g filter="url(#bl)">
<rect x="254.7" y="67.2" width="14.2" height="8.4" rx="4.2" fill="#4a28f0"/>
<rect x="255.3" y="67.8" width="13.0" height="7.2" rx="3.6" fill="#1a34ff"/>
<ellipse cx="258.7" cy="71.4" rx="2.70" ry="2.40" fill="#30c4fa"/>
<ellipse cx="258.7" cy="71.4" rx="2.00" ry="1.80" fill="#80e840"/>
<ellipse cx="265.1" cy="71.4" rx="2.70" ry="2.40" fill="#30c4fa"/>
<ellipse cx="265.1" cy="71.4" rx="2.00" ry="1.80" fill="#80e840"/>
</g>
<rect x="202.5" y="97" width="70.5" height="39.1" fill="url(#stripes)"/>
<rect x="202.5" y="97" width="70.5" height="3.0" fill="#505050"/>
<rect x="202.5" y="131.6" width="70.5" height="4.5" fill="#333"/>
<rect x="202.5" y="97" width="70.5" height="39.1" fill="none" stroke="#262626" stroke-width="1"/>
<g filter="url(#mtex)">
<g transform="translate(214.0,102.0) rotate(4.6 0 17)"><path d="M-4.2,26.5 L-6.6,31.5 M4.2,26.5 L6.6,31.5 M0,29.5 L-1.8,34.5 M-4.8,12.5 L-6.4,15.2 M4.8,12.5 L6.4,15.2" stroke="#b8b8b8" stroke-width="1.3" stroke-linecap="round" fill="none"/><use href="#mp" fill="url(#mg)"/></g>
<g transform="translate(229.7,102.0) rotate(-1.5 0 17)"><path d="M-4.2,26.5 L-6.6,31.5 M4.2,26.5 L6.6,31.5 M0,29.5 L-1.8,34.5 M-4.8,12.5 L-6.4,15.2 M4.8,12.5 L6.4,15.2" stroke="#b8b8b8" stroke-width="1.3" stroke-linecap="round" fill="none"/><use href="#mp" fill="url(#mg)"/></g>
<g transform="translate(245.1,102.0) rotate(2.6 0 17)"><path d="M-4.2,26.5 L-6.6,31.5 M4.2,26.5 L6.6,31.5 M0,29.5 L-1.8,34.5 M-4.8,12.5 L-6.4,15.2 M4.8,12.5 L6.4,15.2" stroke="#b8b8b8" stroke-width="1.3" stroke-linecap="round" fill="none"/><use href="#mp" fill="url(#mg)"/></g>
<g transform="translate(261.8,102.0) rotate(1.5 0 17)"><path d="M-4.2,26.5 L-6.6,31.5 M4.2,26.5 L6.6,31.5 M0,29.5 L-1.8,34.5 M-4.8,12.5 L-6.4,15.2 M4.8,12.5 L6.4,15.2" stroke="#b8b8b8" stroke-width="1.3" stroke-linecap="round" fill="none"/><use href="#mp" fill="url(#mg)"/></g>
</g>
<rect x="202.5" y="139.6" width="70.5" height="42.6" fill="url(#stripes)"/>
<rect x="202.5" y="139.6" width="70.5" height="3.0" fill="#505050"/>
<rect x="202.5" y="177.7" width="70.5" height="4.5" fill="#333"/>
<rect x="202.5" y="139.6" width="70.5" height="42.6" fill="none" stroke="#262626" stroke-width="1"/>
<g filter="url(#mtex)">
<g transform="translate(214.0,144.6) rotate(1.4 0 17)"><path d="M-4.2,26.5 L-6.6,31.5 M4.2,26.5 L6.6,31.5 M0,29.5 L-1.8,34.5 M-4.8,12.5 L-6.4,15.2 M4.8,12.5 L6.4,15.2" stroke="#b8b8b8" stroke-width="1.3" stroke-linecap="round" fill="none"/><use href="#mp" fill="url(#mg)"/></g>
<g transform="translate(229.7,144.6) rotate(0.0 0 17)"><path d="M-4.2,26.5 L-6.6,31.5 M4.2,26.5 L6.6,31.5 M0,29.5 L-1.8,34.5 M-4.8,12.5 L-6.4,15.2 M4.8,12.5 L6.4,15.2" stroke="#b8b8b8" stroke-width="1.3" stroke-linecap="round" fill="none"/><use href="#mp" fill="url(#mg)"/></g>
<g transform="translate(245.1,144.6) rotate(4.2 0 17)"><path d="M-4.2,26.5 L-6.6,31.5 M4.2,26.5 L6.6,31.5 M0,29.5 L-1.8,34.5 M-4.8,12.5 L-6.4,15.2 M4.8,12.5 L6.4,15.2" stroke="#b8b8b8" stroke-width="1.3" stroke-linecap="round" fill="none"/><use href="#mp" fill="url(#mg)"/></g>
<g transform="translate(261.8,144.6) rotate(5.4 0 17)"><path d="M-4.2,26.5 L-6.6,31.5 M4.2,26.5 L6.6,31.5 M0,29.5 L-1.8,34.5 M-4.8,12.5 L-6.4,15.2 M4.8,12.5 L6.4,15.2" stroke="#b8b8b8" stroke-width="1.3" stroke-linecap="round" fill="none"/><use href="#mp" fill="url(#mg)"/></g>
</g>
<rect x="202.5" y="185.4" width="70.5" height="41.4" fill="url(#stripes)"/>
<rect x="202.5" y="185.4" width="70.5" height="3.0" fill="#505050"/>
<rect x="202.5" y="222.3" width="70.5" height="4.5" fill="#333"/>
<rect x="202.5" y="185.4" width="70.5" height="41.4" fill="none" stroke="#262626" stroke-width="1"/>
<g filter="url(#mtex)">
<g transform="translate(214.0,190.4) rotate(0.2 0 17)"><path d="M-4.2,26.5 L-6.6,31.5 M4.2,26.5 L6.6,31.5 M0,29.5 L-1.8,34.5 M-4.8,12.5 L-6.4,15.2 M4.8,12.5 L6.4,15.2" stroke="#b8b8b8" stroke-width="1.3" stroke-linecap="round" fill="none"/><use href="#mp" fill="url(#mg)"/></g>
<g transform="translate(229.7,190.4) rotate(2.3 0 17)"><path d="M-4.2,26.5 L-6.6,31.5 M4.2,26.5 L6.6,31.5 M0,29.5 L-1.8,34.5 M-4.8,12.5 L-6.4,15.2 M4.8,12.5 L6.4,15.2" stroke="#b8b8b8" stroke-width="1.3" stroke-linecap="round" fill="none"/><use href="#mp" fill="url(#mg)"/></g>
<g transform="translate(245.1,190.4) rotate(-4.3 0 17)"><path d="M-4.2,26.5 L-6.6,31.5 M4.2,26.5 L6.6,31.5 M0,29.5 L-1.8,34.5 M-4.8,12.5 L-6.4,15.2 M4.8,12.5 L6.4,15.2" stroke="#b8b8b8" stroke-width="1.3" stroke-linecap="round" fill="none"/><use href="#mp" fill="url(#mg)"/></g>
<g transform="translate(261.8,190.4) rotate(2.7 0 17)"><path d="M-4.2,26.5 L-6.6,31.5 M4.2,26.5 L6.6,31.5 M0,29.5 L-1.8,34.5 M-4.8,12.5 L-6.4,15.2 M4.8,12.5 L6.4,15.2" stroke="#b8b8b8" stroke-width="1.3" stroke-linecap="round" fill="none"/><use href="#mp" fill="url(#mg)"/></g>
</g>
<rect x="202.5" y="230.4" width="70.5" height="42.2" fill="url(#stripes)"/>
<rect x="202.5" y="230.4" width="70.5" height="3.0" fill="#505050"/>
<rect x="202.5" y="268.1" width="70.5" height="4.5" fill="#333"/>
<rect x="202.5" y="230.4" width="70.5" height="42.2" fill="none" stroke="#262626" stroke-width="1"/>
<g filter="url(#mtex)">
<g transform="translate(214.0,235.4) rotate(2.1 0 17)"><path d="M-4.2,26.5 L-6.6,31.5 M4.2,26.5 L6.6,31.5 M0,29.5 L-1.8,34.5 M-4.8,12.5 L-6.4,15.2 M4.8,12.5 L6.4,15.2" stroke="#b8b8b8" stroke-width="1.3" stroke-linecap="round" fill="none"/><use href="#mp" fill="url(#mg)"/></g>
<g transform="translate(229.7,235.4) rotate(5.9 0 17)"><path d="M-4.2,26.5 L-6.6,31.5 M4.2,26.5 L6.6,31.5 M0,29.5 L-1.8,34.5 M-4.8,12.5 L-6.4,15.2 M4.8,12.5 L6.4,15.2" stroke="#b8b8b8" stroke-width="1.3" stroke-linecap="round" fill="none"/><use href="#mp" fill="url(#mg)"/></g>
<g transform="translate(245.1,235.4) rotate(4.0 0 17)"><path d="M-4.2,26.5 L-6.6,31.5 M4.2,26.5 L6.6,31.5 M0,29.5 L-1.8,34.5 M-4.8,12.5 L-6.4,15.2 M4.8,12.5 L6.4,15.2" stroke="#b8b8b8" stroke-width="1.3" stroke-linecap="round" fill="none"/><use href="#mp" fill="url(#mg)"/></g>
<g transform="translate(261.8,235.4) rotate(-1.9 0 17)"><path d="M-4.2,26.5 L-6.6,31.5 M4.2,26.5 L6.6,31.5 M0,29.5 L-1.8,34.5 M-4.8,12.5 L-6.4,15.2 M4.8,12.5 L6.4,15.2" stroke="#b8b8b8" stroke-width="1.3" stroke-linecap="round" fill="none"/><use href="#mp" fill="url(#mg)"/></g>
</g>
<rect x="202.5" y="276" width="70.5" height="41.6" fill="url(#stripes)"/>
<rect x="202.5" y="276" width="70.5" height="3.0" fill="#505050"/>
<rect x="202.5" y="313.1" width="70.5" height="4.5" fill="#333"/>
<rect x="202.5" y="276" width="70.5" height="41.6" fill="none" stroke="#262626" stroke-width="1"/>
<g filter="url(#mtex)">
<g transform="translate(214.0,281.0) rotate(-0.8 0 17)"><path d="M-4.2,26.5 L-6.6,31.5 M4.2,26.5 L6.6,31.5 M0,29.5 L-1.8,34.5 M-4.8,12.5 L-6.4,15.2 M4.8,12.5 L6.4,15.2" stroke="#b8b8b8" stroke-width="1.3" stroke-linecap="round" fill="none"/><use href="#mp" fill="url(#mg)"/></g>
<g transform="translate(229.7,281.0) rotate(2.4 0 17)"><path d="M-4.2,26.5 L-6.6,31.5 M4.2,26.5 L6.6,31.5 M0,29.5 L-1.8,34.5 M-4.8,12.5 L-6.4,15.2 M4.8,12.5 L6.4,15.2" stroke="#b8b8b8" stroke-width="1.3" stroke-linecap="round" fill="none"/><use href="#mp" fill="url(#mg)"/></g>
<g transform="translate(245.1,281.0) rotate(-4.8 0 17)"><path d="M-4.2,26.5 L-6.6,31.5 M4.2,26.5 L6.6,31.5 M0,29.5 L-1.8,34.5 M-4.8,12.5 L-6.4,15.2 M4.8,12.5 L6.4,15.2" stroke="#b8b8b8" stroke-width="1.3" stroke-linecap="round" fill="none"/><use href="#mp" fill="url(#mg)"/></g>
<g transform="translate(261.8,281.0) rotate(0.1 0 17)"><path d="M-4.2,26.5 L-6.6,31.5 M4.2,26.5 L6.6,31.5 M0,29.5 L-1.8,34.5 M-4.8,12.5 L-6.4,15.2 M4.8,12.5 L6.4,15.2" stroke="#b8b8b8" stroke-width="1.3" stroke-linecap="round" fill="none"/><use href="#mp" fill="url(#mg)"/></g>
</g>
<rect x="202.5" y="320.9" width="70.5" height="41.4" fill="url(#stripes)"/>
<rect x="202.5" y="320.9" width="70.5" height="3.0" fill="#505050"/>
<rect x="202.5" y="357.8" width="70.5" height="4.5" fill="#333"/>
<rect x="202.5" y="320.9" width="70.5" height="41.4" fill="none" stroke="#262626" stroke-width="1"/>
<g filter="url(#mtex)">
<g transform="translate(214.0,325.9) rotate(-3.2 0 17)"><path d="M-4.2,26.5 L-6.6,31.5 M4.2,26.5 L6.6,31.5 M0,29.5 L-1.8,34.5 M-4.8,12.5 L-6.4,15.2 M4.8,12.5 L6.4,15.2" stroke="#b8b8b8" stroke-width="1.3" stroke-linecap="round" fill="none"/><use href="#mp" fill="url(#mg)"/></g>
<g transform="translate(229.7,325.9) rotate(-3.7 0 17)"><path d="M-4.2,26.5 L-6.6,31.5 M4.2,26.5 L6.6,31.5 M0,29.5 L-1.8,34.5 M-4.8,12.5 L-6.4,15.2 M4.8,12.5 L6.4,15.2" stroke="#b8b8b8" stroke-width="1.3" stroke-linecap="round" fill="none"/><use href="#mp" fill="url(#mg)"/></g>
<g transform="translate(245.1,325.9) rotate(-4.4 0 17)"><path d="M-4.2,26.5 L-6.6,31.5 M4.2,26.5 L6.6,31.5 M0,29.5 L-1.8,34.5 M-4.8,12.5 L-6.4,15.2 M4.8,12.5 L6.4,15.2" stroke="#b8b8b8" stroke-width="1.3" stroke-linecap="round" fill="none"/><use href="#mp" fill="url(#mg)"/></g>
<g transform="translate(261.8,325.9) rotate(3.5 0 17)"><path d="M-4.2,26.5 L-6.6,31.5 M4.2,26.5 L6.6,31.5 M0,29.5 L-1.8,34.5 M-4.8,12.5 L-6.4,15.2 M4.8,12.5 L6.4,15.2" stroke="#b8b8b8" stroke-width="1.3" stroke-linecap="round" fill="none"/><use href="#mp" fill="url(#mg)"/></g>
</g>
<rect x="278" y="52.5" width="71.0" height="41.1" fill="url(#stripes)"/>
<rect x="278" y="52.5" width="71.0" height="3.0" fill="#505050"/>
<rect x="278" y="89.1" width="71.0" height="4.5" fill="#333"/>
<rect x="278" y="52.5" width="71.0" height="41.1" fill="none" stroke="#262626" stroke-width="1"/>
<g filter="url(#mtex)">
<g transform="translate(289.5,57.5) rotate(-3.6 0 17)"><path d="M-4.2,26.5 L-6.6,31.5 M4.2,26.5 L6.6,31.5 M0,29.5 L-1.8,34.5 M-4.8,12.5 L-6.4,15.2 M4.8,12.5 L6.4,15.2" stroke="#b8b8b8" stroke-width="1.3" stroke-linecap="round" fill="none"/><use href="#mp" fill="url(#mg)"/></g>
<g transform="translate(305.2,57.5) rotate(-2.3 0 17)"><path d="M-4.2,26.5 L-6.6,31.5 M4.2,26.5 L6.6,31.5 M0,29.5 L-1.8,34.5 M-4.8,12.5 L-6.4,15.2 M4.8,12.5 L6.4,15.2" stroke="#b8b8b8" stroke-width="1.3" stroke-linecap="round" fill="none"/><use href="#mp" fill="url(#mg)"/></g>
<g transform="translate(320.6,57.5) rotate(-0.7 0 17)"><path d="M-4.2,26.5 L-6.6,31.5 M4.2,26.5 L6.6,31.5 M0,29.5 L-1.8,34.5 M-4.8,12.5 L-6.4,15.2 M4.8,12.5 L6.4,15.2" stroke="#b8b8b8" stroke-width="1.3" stroke-linecap="round" fill="none"/><use href="#mp" fill="url(#mg)"/></g>
<g transform="translate(337.3,57.5) rotate(4.6 0 17)"><path d="M-4.2,26.5 L-6.6,31.5 M4.2,26.5 L6.6,31.5 M0,29.5 L-1.8,34.5 M-4.8,12.5 L-6.4,15.2 M4.8,12.5 L6.4,15.2" stroke="#b8b8b8" stroke-width="1.3" stroke-linecap="round" fill="none"/><use href="#mp" fill="url(#mg)"/></g>
</g>
<g filter="url(#bl)">
<rect x="282.4" y="67.2" width="14.2" height="8.4" rx="4.2" fill="#4a28f0"/>
<rect x="283.0" y="67.8" width="13.0" height="7.2" rx="3.6" fill="#1a34ff"/>
<ellipse cx="286.4" cy="71.4" rx="2.70" ry="2.40" fill="#30c4fa"/>
<ellipse cx="286.4" cy="71.4" rx="2.00" ry="1.80" fill="#80e840"/>
<ellipse cx="286.4" cy="71.4" rx="1.50" ry="1.35" fill="#f0e020"/>
<ellipse cx="292.8" cy="71.4" rx="2.70" ry="2.40" fill="#30c4fa"/>
<ellipse cx="292.8" cy="71.4" rx="2.00" ry="1.80" fill="#80e840"/>
</g>
<g filter="url(#bl)">
<rect x="298.1" y="67.2" width="14.2" height="8.4" rx="4.2" fill="#4a28f0"/>
<rect x="298.7" y="67.8" width="13.0" height="7.2" rx="3.6" fill="#1a34ff"/>
<ellipse cx="302.1" cy="71.4" rx="2.70" ry="2.40" fill="#30c4fa"/>
<ellipse cx="302.1" cy="71.4" rx="2.00" ry="1.80" fill="#80e840"/>
<ellipse cx="302.1" cy="71.4" rx="1.50" ry="1.35" fill="#f0e020"/>
<ellipse cx="302.4" cy="71.4" rx="1.10" ry="1.00" fill="#e01010"/>
<ellipse cx="308.5" cy="71.4" rx="2.70" ry="2.40" fill="#30c4fa"/>
<ellipse cx="308.5" cy="71.4" rx="2.00" ry="1.80" fill="#80e840"/>
</g>
<g filter="url(#bl)">
<rect x="313.5" y="67.2" width="14.2" height="8.4" rx="4.2" fill="#4a28f0"/>
<rect x="314.1" y="67.8" width="13.0" height="7.2" rx="3.6" fill="#1a34ff"/>
<ellipse cx="317.5" cy="71.4" rx="2.70" ry="2.40" fill="#30c4fa"/>
<ellipse cx="323.9" cy="71.4" rx="2.70" ry="2.40" fill="#30c4fa"/>
<ellipse cx="323.9" cy="71.4" rx="2.00" ry="1.80" fill="#80e840"/>
</g>
<g filter="url(#bl)">
<rect x="330.2" y="67.2" width="14.2" height="8.4" rx="4.2" fill="#4a28f0"/>
<rect x="330.8" y="67.8" width="13.0" height="7.2" rx="3.6" fill="#1a34ff"/>
<ellipse cx="334.2" cy="71.4" rx="2.70" ry="2.40" fill="#30c4fa"/>
<ellipse cx="334.2" cy="71.4" rx="2.00" ry="1.80" fill="#80e840"/>
<ellipse cx="334.2" cy="71.4" rx="1.50" ry="1.35" fill="#f0e020"/>
<ellipse cx="340.6" cy="71.4" rx="2.70" ry="2.40" fill="#30c4fa"/>
<ellipse cx="340.6" cy="71.4" rx="2.00" ry="1.80" fill="#80e840"/>
<ellipse cx="340.6" cy="71.4" rx="1.50" ry="1.35" fill="#f0e020"/>
<ellipse cx="340.9" cy="71.4" rx="1.10" ry="1.00" fill="#e01010"/>
</g>
<ellipse cx="305.7" cy="89.6" rx="1.6" ry="1.1" fill="#3a30f0" opacity="1" filter="url(#bl)"/>
<ellipse cx="322.6" cy="89.6" rx="1.6" ry="1.1" fill="#3a30f0" opacity="1" filter="url(#bl)"/>
<ellipse cx="341.0" cy="89.6" rx="1.6" ry="1.3" fill="#2a40ff" opacity="1" filter="url(#bl)"/>
<ellipse cx="341.0" cy="89.6" rx="0.8" ry="0.7" fill="#40d0f0" opacity="1" filter="url(#bl)"/>
<rect x="278" y="97" width="71.0" height="39.1" fill="url(#stripes)"/>
<rect x="278" y="97" width="71.0" height="3.0" fill="#505050"/>
<rect x="278" y="131.6" width="71.0" height="4.5" fill="#333"/>
<rect x="278" y="97" width="71.0" height="39.1" fill="none" stroke="#262626" stroke-width="1"/>
<g filter="url(#mtex)">
<g transform="translate(289.5,102.0) rotate(-4.1 0 17)"><path d="M-4.2,26.5 L-6.6,31.5 M4.2,26.5 L6.6,31.5 M0,29.5 L-1.8,34.5 M-4.8,12.5 L-6.4,15.2 M4.8,12.5 L6.4,15.2" stroke="#b8b8b8" stroke-width="1.3" stroke-linecap="round" fill="none"/><use href="#mp" fill="url(#mg)"/></g>
<g transform="translate(305.2,102.0) rotate(-0.1 0 17)"><path d="M-4.2,26.5 L-6.6,31.5 M4.2,26.5 L6.6,31.5 M0,29.5 L-1.8,34.5 M-4.8,12.5 L-6.4,15.2 M4.8,12.5 L6.4,15.2" stroke="#b8b8b8" stroke-width="1.3" stroke-linecap="round" fill="none"/><use href="#mp" fill="url(#mg)"/></g>
<g transform="translate(320.6,102.0) rotate(1.0 0 17)"><path d="M-4.2,26.5 L-6.6,31.5 M4.2,26.5 L6.6,31.5 M0,29.5 L-1.8,34.5 M-4.8,12.5 L-6.4,15.2 M4.8,12.5 L6.4,15.2" stroke="#b8b8b8" stroke-width="1.3" stroke-linecap="round" fill="none"/><use href="#mp" fill="url(#mg)"/></g>
<g transform="translate(337.3,102.0) rotate(4.7 0 17)"><path d="M-4.2,26.5 L-6.6,31.5 M4.2,26.5 L6.6,31.5 M0,29.5 L-1.8,34.5 M-4.8,12.5 L-6.4,15.2 M4.8,12.5 L6.4,15.2" stroke="#b8b8b8" stroke-width="1.3" stroke-linecap="round" fill="none"/><use href="#mp" fill="url(#mg)"/></g>
</g>
<rect x="278" y="139.6" width="71.0" height="42.6" fill="url(#stripes)"/>
<rect x="278" y="139.6" width="71.0" height="3.0" fill="#505050"/>
<rect x="278" y="177.7" width="71.0" height="4.5" fill="#333"/>
<rect x="278" y="139.6" width="71.0" height="42.6" fill="none" stroke="#262626" stroke-width="1"/>
<g filter="url(#mtex)">
<g transform="translate(289.5,144.6) rotate(4.0 0 17)"><path d="M-4.2,26.5 L-6.6,31.5 M4.2,26.5 L6.6,31.5 M0,29.5 L-1.8,34.5 M-4.8,12.5 L-6.4,15.2 M4.8,12.5 L6.4,15.2" stroke="#b8b8b8" stroke-width="1.3" stroke-linecap="round" fill="none"/><use href="#mp" fill="url(#mg)"/></g>
<g transform="translate(305.2,144.6) rotate(4.5 0 17)"><path d="M-4.2,26.5 L-6.6,31.5 M4.2,26.5 L6.6,31.5 M0,29.5 L-1.8,34.5 M-4.8,12.5 L-6.4,15.2 M4.8,12.5 L6.4,15.2" stroke="#b8b8b8" stroke-width="1.3" stroke-linecap="round" fill="none"/><use href="#mp" fill="url(#mg)"/></g>
<g transform="translate(320.6,144.6) rotate(-1.9 0 17)"><path d="M-4.2,26.5 L-6.6,31.5 M4.2,26.5 L6.6,31.5 M0,29.5 L-1.8,34.5 M-4.8,12.5 L-6.4,15.2 M4.8,12.5 L6.4,15.2" stroke="#b8b8b8" stroke-width="1.3" stroke-linecap="round" fill="none"/><use href="#mp" fill="url(#mg)"/></g>
<g transform="translate(337.3,144.6) rotate(-0.4 0 17)"><path d="M-4.2,26.5 L-6.6,31.5 M4.2,26.5 L6.6,31.5 M0,29.5 L-1.8,34.5 M-4.8,12.5 L-6.4,15.2 M4.8,12.5 L6.4,15.2" stroke="#b8b8b8" stroke-width="1.3" stroke-linecap="round" fill="none"/><use href="#mp" fill="url(#mg)"/></g>
</g>
<rect x="278" y="185.4" width="71.0" height="41.4" fill="url(#stripes)"/>
<rect x="278" y="185.4" width="71.0" height="3.0" fill="#505050"/>
<rect x="278" y="222.3" width="71.0" height="4.5" fill="#333"/>
<rect x="278" y="185.4" width="71.0" height="41.4" fill="none" stroke="#262626" stroke-width="1"/>
<g filter="url(#mtex)">
<g transform="translate(289.5,190.4) rotate(-1.1 0 17)"><path d="M-4.2,26.5 L-6.6,31.5 M4.2,26.5 L6.6,31.5 M0,29.5 L-1.8,34.5 M-4.8,12.5 L-6.4,15.2 M4.8,12.5 L6.4,15.2" stroke="#b8b8b8" stroke-width="1.3" stroke-linecap="round" fill="none"/><use href="#mp" fill="url(#mg)"/></g>
<g transform="translate(305.2,190.4) rotate(4.7 0 17)"><path d="M-4.2,26.5 L-6.6,31.5 M4.2,26.5 L6.6,31.5 M0,29.5 L-1.8,34.5 M-4.8,12.5 L-6.4,15.2 M4.8,12.5 L6.4,15.2" stroke="#b8b8b8" stroke-width="1.3" stroke-linecap="round" fill="none"/><use href="#mp" fill="url(#mg)"/></g>
<g transform="translate(320.6,190.4) rotate(5.5 0 17)"><path d="M-4.2,26.5 L-6.6,31.5 M4.2,26.5 L6.6,31.5 M0,29.5 L-1.8,34.5 M-4.8,12.5 L-6.4,15.2 M4.8,12.5 L6.4,15.2" stroke="#b8b8b8" stroke-width="1.3" stroke-linecap="round" fill="none"/><use href="#mp" fill="url(#mg)"/></g>
<g transform="translate(337.3,190.4) rotate(-3.3 0 17)"><path d="M-4.2,26.5 L-6.6,31.5 M4.2,26.5 L6.6,31.5 M0,29.5 L-1.8,34.5 M-4.8,12.5 L-6.4,15.2 M4.8,12.5 L6.4,15.2" stroke="#b8b8b8" stroke-width="1.3" stroke-linecap="round" fill="none"/><use href="#mp" fill="url(#mg)"/></g>
</g>
<rect x="278" y="230.4" width="71.0" height="42.2" fill="url(#stripes)"/>
<rect x="278" y="230.4" width="71.0" height="3.0" fill="#505050"/>
<rect x="278" y="268.1" width="71.0" height="4.5" fill="#333"/>
<rect x="278" y="230.4" width="71.0" height="42.2" fill="none" stroke="#262626" stroke-width="1"/>
<g filter="url(#mtex)">
<g transform="translate(289.5,235.4) rotate(-3.1 0 17)"><path d="M-4.2,26.5 L-6.6,31.5 M4.2,26.5 L6.6,31.5 M0,29.5 L-1.8,34.5 M-4.8,12.5 L-6.4,15.2 M4.8,12.5 L6.4,15.2" stroke="#b8b8b8" stroke-width="1.3" stroke-linecap="round" fill="none"/><use href="#mp" fill="url(#mg)"/></g>
<g transform="translate(305.2,235.4) rotate(-2.4 0 17)"><path d="M-4.2,26.5 L-6.6,31.5 M4.2,26.5 L6.6,31.5 M0,29.5 L-1.8,34.5 M-4.8,12.5 L-6.4,15.2 M4.8,12.5 L6.4,15.2" stroke="#b8b8b8" stroke-width="1.3" stroke-linecap="round" fill="none"/><use href="#mp" fill="url(#mg)"/></g>
<g transform="translate(320.6,235.4) rotate(-2.4 0 17)"><path d="M-4.2,26.5 L-6.6,31.5 M4.2,26.5 L6.6,31.5 M0,29.5 L-1.8,34.5 M-4.8,12.5 L-6.4,15.2 M4.8,12.5 L6.4,15.2" stroke="#b8b8b8" stroke-width="1.3" stroke-linecap="round" fill="none"/><use href="#mp" fill="url(#mg)"/></g>
<g transform="translate(337.3,235.4) rotate(0.3 0 17)"><path d="M-4.2,26.5 L-6.6,31.5 M4.2,26.5 L6.6,31.5 M0,29.5 L-1.8,34.5 M-4.8,12.5 L-6.4,15.2 M4.8,12.5 L6.4,15.2" stroke="#b8b8b8" stroke-width="1.3" stroke-linecap="round" fill="none"/><use href="#mp" fill="url(#mg)"/></g>
</g>
<rect x="278" y="276" width="71.0" height="41.6" fill="url(#stripes)"/>
<rect x="278" y="276" width="71.0" height="3.0" fill="#505050"/>
<rect x="278" y="313.1" width="71.0" height="4.5" fill="#333"/>
<rect x="278" y="276" width="71.0" height="41.6" fill="none" stroke="#262626" stroke-width="1"/>
<g filter="url(#mtex)">
<g transform="translate(289.5,281.0) rotate(1.5 0 17)"><path d="M-4.2,26.5 L-6.6,31.5 M4.2,26.5 L6.6,31.5 M0,29.5 L-1.8,34.5 M-4.8,12.5 L-6.4,15.2 M4.8,12.5 L6.4,15.2" stroke="#b8b8b8" stroke-width="1.3" stroke-linecap="round" fill="none"/><use href="#mp" fill="url(#mg)"/></g>
<g transform="translate(305.2,281.0) rotate(-2.1 0 17)"><path d="M-4.2,26.5 L-6.6,31.5 M4.2,26.5 L6.6,31.5 M0,29.5 L-1.8,34.5 M-4.8,12.5 L-6.4,15.2 M4.8,12.5 L6.4,15.2" stroke="#b8b8b8" stroke-width="1.3" stroke-linecap="round" fill="none"/><use href="#mp" fill="url(#mg)"/></g>
<g transform="translate(320.6,281.0) rotate(-5.0 0 17)"><path d="M-4.2,26.5 L-6.6,31.5 M4.2,26.5 L6.6,31.5 M0,29.5 L-1.8,34.5 M-4.8,12.5 L-6.4,15.2 M4.8,12.5 L6.4,15.2" stroke="#b8b8b8" stroke-width="1.3" stroke-linecap="round" fill="none"/><use href="#mp" fill="url(#mg)"/></g>
<g transform="translate(337.3,281.0) rotate(-0.4 0 17)"><path d="M-4.2,26.5 L-6.6,31.5 M4.2,26.5 L6.6,31.5 M0,29.5 L-1.8,34.5 M-4.8,12.5 L-6.4,15.2 M4.8,12.5 L6.4,15.2" stroke="#b8b8b8" stroke-width="1.3" stroke-linecap="round" fill="none"/><use href="#mp" fill="url(#mg)"/></g>
</g>
<rect x="278" y="320.9" width="71.0" height="41.4" fill="url(#stripes)"/>
<rect x="278" y="320.9" width="71.0" height="3.0" fill="#505050"/>
<rect x="278" y="357.8" width="71.0" height="4.5" fill="#333"/>
<rect x="278" y="320.9" width="71.0" height="41.4" fill="none" stroke="#262626" stroke-width="1"/>
<g filter="url(#mtex)">
<g transform="translate(289.5,325.9) rotate(-0.9 0 17)"><path d="M-4.2,26.5 L-6.6,31.5 M4.2,26.5 L6.6,31.5 M0,29.5 L-1.8,34.5 M-4.8,12.5 L-6.4,15.2 M4.8,12.5 L6.4,15.2" stroke="#b8b8b8" stroke-width="1.3" stroke-linecap="round" fill="none"/><use href="#mp" fill="url(#mg)"/></g>
<g transform="translate(305.2,325.9) rotate(1.2 0 17)"><path d="M-4.2,26.5 L-6.6,31.5 M4.2,26.5 L6.6,31.5 M0,29.5 L-1.8,34.5 M-4.8,12.5 L-6.4,15.2 M4.8,12.5 L6.4,15.2" stroke="#b8b8b8" stroke-width="1.3" stroke-linecap="round" fill="none"/><use href="#mp" fill="url(#mg)"/></g>
<g transform="translate(320.6,325.9) rotate(5.5 0 17)"><path d="M-4.2,26.5 L-6.6,31.5 M4.2,26.5 L6.6,31.5 M0,29.5 L-1.8,34.5 M-4.8,12.5 L-6.4,15.2 M4.8,12.5 L6.4,15.2" stroke="#b8b8b8" stroke-width="1.3" stroke-linecap="round" fill="none"/><use href="#mp" fill="url(#mg)"/></g>
<g transform="translate(337.3,325.9) rotate(2.6 0 17)"><path d="M-4.2,26.5 L-6.6,31.5 M4.2,26.5 L6.6,31.5 M0,29.5 L-1.8,34.5 M-4.8,12.5 L-6.4,15.2 M4.8,12.5 L6.4,15.2" stroke="#b8b8b8" stroke-width="1.3" stroke-linecap="round" fill="none"/><use href="#mp" fill="url(#mg)"/></g>
</g>
<rect x="354.4" y="52.5" width="71.1" height="41.1" fill="url(#stripes)"/>
<rect x="354.4" y="52.5" width="71.1" height="3.0" fill="#505050"/>
<rect x="354.4" y="89.1" width="71.1" height="4.5" fill="#333"/>
<rect x="354.4" y="52.5" width="71.1" height="41.1" fill="none" stroke="#262626" stroke-width="1"/>
<g filter="url(#mtex)">
<g transform="translate(365.9,57.5) rotate(0.7 0 17)"><path d="M-4.2,26.5 L-6.6,31.5 M4.2,26.5 L6.6,31.5 M0,29.5 L-1.8,34.5 M-4.8,12.5 L-6.4,15.2 M4.8,12.5 L6.4,15.2" stroke="#b8b8b8" stroke-width="1.3" stroke-linecap="round" fill="none"/><use href="#mp" fill="url(#mg)"/></g>
<g transform="translate(381.6,57.5) rotate(1.8 0 17)"><path d="M-4.2,26.5 L-6.6,31.5 M4.2,26.5 L6.6,31.5 M0,29.5 L-1.8,34.5 M-4.8,12.5 L-6.4,15.2 M4.8,12.5 L6.4,15.2" stroke="#b8b8b8" stroke-width="1.3" stroke-linecap="round" fill="none"/><use href="#mp" fill="url(#mg)"/></g>
<g transform="translate(397.0,57.5) rotate(2.4 0 17)"><path d="M-4.2,26.5 L-6.6,31.5 M4.2,26.5 L6.6,31.5 M0,29.5 L-1.8,34.5 M-4.8,12.5 L-6.4,15.2 M4.8,12.5 L6.4,15.2" stroke="#b8b8b8" stroke-width="1.3" stroke-linecap="round" fill="none"/><use href="#mp" fill="url(#mg)"/></g>
<g transform="translate(413.7,57.5) rotate(-4.4 0 17)"><path d="M-4.2,26.5 L-6.6,31.5 M4.2,26.5 L6.6,31.5 M0,29.5 L-1.8,34.5 M-4.8,12.5 L-6.4,15.2 M4.8,12.5 L6.4,15.2" stroke="#b8b8b8" stroke-width="1.3" stroke-linecap="round" fill="none"/><use href="#mp" fill="url(#mg)"/></g>
</g>
<g filter="url(#bl)">
<rect x="357.9" y="66.7" width="15.9" height="9.4" rx="4.7" fill="#4a28f0"/>
<rect x="358.6" y="67.4" width="14.6" height="8.1" rx="4.0" fill="#1a34ff"/>
<ellipse cx="362.8" cy="71.4" rx="3.02" ry="2.69" fill="#30c4fa"/>
<ellipse cx="362.8" cy="71.4" rx="2.24" ry="2.02" fill="#80e840"/>
<ellipse cx="362.8" cy="71.4" rx="1.68" ry="1.51" fill="#f0e020"/>
<ellipse cx="369.2" cy="71.4" rx="3.02" ry="2.69" fill="#30c4fa"/>
<ellipse cx="369.2" cy="71.4" rx="2.24" ry="2.02" fill="#80e840"/>
<ellipse cx="369.2" cy="71.4" rx="1.68" ry="1.51" fill="#f0e020"/>
<ellipse cx="369.5" cy="71.4" rx="1.23" ry="1.12" fill="#e01010"/>
</g>
<g filter="url(#bl)">
<rect x="373.6" y="66.7" width="15.9" height="9.4" rx="4.7" fill="#4a28f0"/>
<rect x="374.3" y="67.4" width="14.6" height="8.1" rx="4.0" fill="#1a34ff"/>
<ellipse cx="378.5" cy="71.4" rx="3.02" ry="2.69" fill="#30c4fa"/>
<ellipse cx="378.5" cy="71.4" rx="2.24" ry="2.02" fill="#80e840"/>
<ellipse cx="378.5" cy="71.4" rx="1.68" ry="1.51" fill="#f0e020"/>
<ellipse cx="378.8" cy="71.4" rx="1.23" ry="1.12" fill="#e01010"/>
<ellipse cx="384.9" cy="71.4" rx="3.02" ry="2.69" fill="#30c4fa"/>
<ellipse cx="384.9" cy="71.4" rx="2.24" ry="2.02" fill="#80e840"/>
<ellipse cx="384.9" cy="71.4" rx="1.68" ry="1.51" fill="#f0e020"/>
<ellipse cx="385.2" cy="71.4" rx="1.23" ry="1.12" fill="#e01010"/>
</g>
<g filter="url(#bl)">
<rect x="389.0" y="66.7" width="15.9" height="9.4" rx="4.7" fill="#4a28f0"/>
<rect x="389.7" y="67.4" width="14.6" height="8.1" rx="4.0" fill="#1a34ff"/>
<ellipse cx="393.9" cy="71.4" rx="3.02" ry="2.69" fill="#30c4fa"/>
<ellipse cx="393.9" cy="71.4" rx="2.24" ry="2.02" fill="#80e840"/>
<ellipse cx="393.9" cy="71.4" rx="1.68" ry="1.51" fill="#f0e020"/>
<ellipse cx="394.2" cy="71.4" rx="1.23" ry="1.12" fill="#e01010"/>
<ellipse cx="400.3" cy="71.4" rx="3.02" ry="2.69" fill="#30c4fa"/>
<ellipse cx="400.3" cy="71.4" rx="2.24" ry="2.02" fill="#80e840"/>
<ellipse cx="400.3" cy="71.4" rx="1.68" ry="1.51" fill="#f0e020"/>
<ellipse cx="400.6" cy="71.4" rx="1.23" ry="1.12" fill="#e01010"/>
</g>
<g filter="url(#bl)">
<rect x="405.7" y="66.7" width="15.9" height="9.4" rx="4.7" fill="#4a28f0"/>
<rect x="406.4" y="67.4" width="14.6" height="8.1" rx="4.0" fill="#1a34ff"/>
<ellipse cx="410.6" cy="71.4" rx="3.02" ry="2.69" fill="#30c4fa"/>
<ellipse cx="410.6" cy="71.4" rx="2.24" ry="2.02" fill="#80e840"/>
<ellipse cx="410.6" cy="71.4" rx="1.68" ry="1.51" fill="#f0e020"/>
<ellipse cx="417.0" cy="71.4" rx="3.02" ry="2.69" fill="#30c4fa"/>
<ellipse cx="417.0" cy="71.4" rx="2.24" ry="2.02" fill="#80e840"/>
<ellipse cx="417.0" cy="71.4" rx="1.68" ry="1.51" fill="#f0e020"/>
<ellipse cx="417.3" cy="71.4" rx="1.23" ry="1.12" fill="#e01010"/>
</g>
<rect x="354.4" y="97" width="71.1" height="39.1" fill="url(#stripes)"/>
<rect x="354.4" y="97" width="71.1" height="3.0" fill="#505050"/>
<rect x="354.4" y="131.6" width="71.1" height="4.5" fill="#333"/>
<rect x="354.4" y="97" width="71.1" height="39.1" fill="none" stroke="#262626" stroke-width="1"/>
<g filter="url(#mtex)">
<g transform="translate(365.9,102.0) rotate(4.9 0 17)"><path d="M-4.2,26.5 L-6.6,31.5 M4.2,26.5 L6.6,31.5 M0,29.5 L-1.8,34.5 M-4.8,12.5 L-6.4,15.2 M4.8,12.5 L6.4,15.2" stroke="#b8b8b8" stroke-width="1.3" stroke-linecap="round" fill="none"/><use href="#mp" fill="url(#mg)"/></g>
<g transform="translate(381.6,102.0) rotate(3.6 0 17)"><path d="M-4.2,26.5 L-6.6,31.5 M4.2,26.5 L6.6,31.5 M0,29.5 L-1.8,34.5 M-4.8,12.5 L-6.4,15.2 M4.8,12.5 L6.4,15.2" stroke="#b8b8b8" stroke-width="1.3" stroke-linecap="round" fill="none"/><use href="#mp" fill="url(#mg)"/></g>
<g transform="translate(397.0,102.0) rotate(4.6 0 17)"><path d="M-4.2,26.5 L-6.6,31.5 M4.2,26.5 L6.6,31.5 M0,29.5 L-1.8,34.5 M-4.8,12.5 L-6.4,15.2 M4.8,12.5 L6.4,15.2" stroke="#b8b8b8" stroke-width="1.3" stroke-linecap="round" fill="none"/><use href="#mp" fill="url(#mg)"/></g>
<g transform="translate(413.7,102.0) rotate(3.8 0 17)"><path d="M-4.2,26.5 L-6.6,31.5 M4.2,26.5 L6.6,31.5 M0,29.5 L-1.8,34.5 M-4.8,12.5 L-6.4,15.2 M4.8,12.5 L6.4,15.2" stroke="#b8b8b8" stroke-width="1.3" stroke-linecap="round" fill="none"/><use href="#mp" fill="url(#mg)"/></g>
</g>
<clipPath id="cp1"><use href="#mp" transform="translate(365.9,102.0) rotate(4.9 0 17) translate(0,17) scale(1.25,1.06) translate(0,-17)"/><use href="#mp" transform="translate(381.6,102.0) rotate(3.6 0 17) translate(0,17) scale(1.25,1.06) translate(0,-17)"/><use href="#mp" transform="translate(397.0,102.0) rotate(4.6 0 17) translate(0,17) scale(1.25,1.06) translate(0,-17)"/><use href="#mp" transform="translate(413.7,102.0) rotate(3.8 0 17) translate(0,17) scale(1.25,1.06) translate(0,-17)"/><rect x="354.4" y="124" width="71.1" height="11.1"/></clipPath>
<g clip-path="url(#cp1)"><g filter="url(#irr)">
<ellipse cx="360.6" cy="115.2" rx="4.20" ry="3.40" fill="#6a34f0"/>
<ellipse cx="360.6" cy="115.2" rx="3.10" ry="2.30" fill="#2a2cff"/>
<ellipse cx="362.5" cy="127.5" rx="6.80" ry="3.40" fill="#6a34f0"/>
<ellipse cx="362.5" cy="127.5" rx="5.70" ry="2.30" fill="#2a2cff"/>
<ellipse cx="378.7" cy="115.4" rx="2.40" ry="1.80" fill="#6a34f0"/>
<ellipse cx="378.7" cy="115.4" rx="1.30" ry="0.70" fill="#2a2cff"/>
<ellipse cx="381.0" cy="125.0" rx="1.30" ry="1.30" fill="#6a34f0"/>
<ellipse cx="381.0" cy="125.0" rx="0.40" ry="0.40" fill="#2a2cff"/>
<ellipse cx="374.0" cy="125.8" rx="1.30" ry="1.30" fill="#6a34f0"/>
<ellipse cx="374.0" cy="125.8" rx="0.40" ry="0.40" fill="#2a2cff"/>
<ellipse cx="394.8" cy="115.0" rx="4.20" ry="3.00" fill="#6a34f0"/>
<ellipse cx="394.8" cy="115.0" rx="3.10" ry="1.90" fill="#2a2cff"/>
<ellipse cx="397.6" cy="127.0" rx="7.80" ry="3.80" fill="#6a34f0"/>
<ellipse cx="397.6" cy="127.0" rx="6.70" ry="2.70" fill="#2a2cff"/>
<ellipse cx="414.8" cy="114.3" rx="3.00" ry="2.20" fill="#6a34f0"/>
<ellipse cx="414.8" cy="114.3" rx="1.90" ry="1.10" fill="#2a2cff"/>
<ellipse cx="414.3" cy="125.0" rx="5.20" ry="2.90" fill="#6a34f0"/>
<ellipse cx="414.3" cy="125.0" rx="4.10" ry="1.80" fill="#2a2cff"/>
<ellipse cx="420.0" cy="123.5" rx="2.00" ry="1.50" fill="#6a34f0"/>
<ellipse cx="420.0" cy="123.5" rx="0.90" ry="0.40" fill="#2a2cff"/>
</g></g>
<rect x="354.4" y="139.6" width="71.1" height="42.6" fill="url(#stripes)"/>
<rect x="354.4" y="139.6" width="71.1" height="3.0" fill="#505050"/>
<rect x="354.4" y="177.7" width="71.1" height="4.5" fill="#333"/>
<rect x="354.4" y="139.6" width="71.1" height="42.6" fill="none" stroke="#262626" stroke-width="1"/>
<g filter="url(#mtex)">
<g transform="translate(365.9,144.6) rotate(-0.7 0 17)"><path d="M-4.2,26.5 L-6.6,31.5 M4.2,26.5 L6.6,31.5 M0,29.5 L-1.8,34.5 M-4.8,12.5 L-6.4,15.2 M4.8,12.5 L6.4,15.2" stroke="#b8b8b8" stroke-width="1.3" stroke-linecap="round" fill="none"/><use href="#mp" fill="url(#mg)"/></g>
<g transform="translate(381.6,144.6) rotate(-0.6 0 17)"><path d="M-4.2,26.5 L-6.6,31.5 M4.2,26.5 L6.6,31.5 M0,29.5 L-1.8,34.5 M-4.8,12.5 L-6.4,15.2 M4.8,12.5 L6.4,15.2" stroke="#b8b8b8" stroke-width="1.3" stroke-linecap="round" fill="none"/><use href="#mp" fill="url(#mg)"/></g>
<g transform="translate(397.0,144.6) rotate(-3.9 0 17)"><path d="M-4.2,26.5 L-6.6,31.5 M4.2,26.5 L6.6,31.5 M0,29.5 L-1.8,34.5 M-4.8,12.5 L-6.4,15.2 M4.8,12.5 L6.4,15.2" stroke="#b8b8b8" stroke-width="1.3" stroke-linecap="round" fill="none"/><use href="#mp" fill="url(#mg)"/></g>
<g transform="translate(413.7,144.6) rotate(2.0 0 17)"><path d="M-4.2,26.5 L-6.6,31.5 M4.2,26.5 L6.6,31.5 M0,29.5 L-1.8,34.5 M-4.8,12.5 L-6.4,15.2 M4.8,12.5 L6.4,15.2" stroke="#b8b8b8" stroke-width="1.3" stroke-linecap="round" fill="none"/><use href="#mp" fill="url(#mg)"/></g>
</g>
<clipPath id="cp2"><use href="#mp" transform="translate(365.9,144.6) rotate(-0.7 0 17) translate(0,17) scale(1.25,1.06) translate(0,-17)"/><use href="#mp" transform="translate(381.6,144.6) rotate(-0.6 0 17) translate(0,17) scale(1.25,1.06) translate(0,-17)"/><use href="#mp" transform="translate(397.0,144.6) rotate(-3.9 0 17) translate(0,17) scale(1.25,1.06) translate(0,-17)"/><use href="#mp" transform="translate(413.7,144.6) rotate(2.0 0 17) translate(0,17) scale(1.25,1.06) translate(0,-17)"/><rect x="354.4" y="166.6" width="71.1" height="14.6"/></clipPath>
<g clip-path="url(#cp2)"><g filter="url(#irr)">
<ellipse cx="364.0" cy="157.5" rx="6.00" ry="4.50" fill="#6a34f0"/>
<ellipse cx="364.0" cy="157.5" rx="4.90" ry="3.40" fill="#2a2cff"/>
<ellipse cx="361.0" cy="162.0" rx="3.50" ry="3.00" fill="#6a34f0"/>
<ellipse cx="361.0" cy="162.0" rx="2.40" ry="1.90" fill="#2a2cff"/>
<ellipse cx="364.0" cy="172.5" rx="8.00" ry="5.50" fill="#6a34f0"/>
<ellipse cx="364.0" cy="172.5" rx="6.90" ry="4.40" fill="#2a2cff"/>
<ellipse cx="383.5" cy="154.0" rx="3.20" ry="3.20" fill="#6a34f0"/>
<ellipse cx="383.5" cy="154.0" rx="2.10" ry="2.10" fill="#2a2cff"/>
<ellipse cx="380.0" cy="161.0" rx="3.00" ry="3.00" fill="#6a34f0"/>
<ellipse cx="380.0" cy="161.0" rx="1.90" ry="1.90" fill="#2a2cff"/>
<ellipse cx="387.0" cy="160.0" rx="2.60" ry="2.60" fill="#6a34f0"/>
<ellipse cx="387.0" cy="160.0" rx="1.50" ry="1.50" fill="#2a2cff"/>
<ellipse cx="386.0" cy="172.5" rx="8.00" ry="5.00" fill="#6a34f0"/>
<ellipse cx="386.0" cy="172.5" rx="6.90" ry="3.90" fill="#2a2cff"/>
<ellipse cx="398.0" cy="168.5" rx="5.00" ry="5.00" fill="#6a34f0"/>
<ellipse cx="398.0" cy="168.5" rx="3.90" ry="3.90" fill="#2a2cff"/>
<ellipse cx="402.0" cy="156.5" rx="7.00" ry="5.50" fill="#6a34f0"/>
<ellipse cx="402.0" cy="156.5" rx="5.90" ry="4.40" fill="#2a2cff"/>
<ellipse cx="405.0" cy="173.0" rx="8.50" ry="5.50" fill="#6a34f0"/>
<ellipse cx="405.0" cy="173.0" rx="7.40" ry="4.40" fill="#2a2cff"/>
<ellipse cx="418.0" cy="154.5" rx="5.00" ry="4.50" fill="#6a34f0"/>
<ellipse cx="418.0" cy="154.5" rx="3.90" ry="3.40" fill="#2a2cff"/>
<ellipse cx="414.0" cy="164.0" rx="3.00" ry="3.00" fill="#6a34f0"/>
<ellipse cx="414.0" cy="164.0" rx="1.90" ry="1.90" fill="#2a2cff"/>
<ellipse cx="418.5" cy="171.5" rx="7.80" ry="5.00" fill="#6a34f0"/>
<ellipse cx="418.5" cy="171.5" rx="6.70" ry="3.90" fill="#2a2cff"/>
<ellipse cx="371.0" cy="173.0" rx="4.20" ry="3.80" fill="#6a34f0"/>
<ellipse cx="371.0" cy="173.0" rx="3.61" ry="3.27" fill="#2034ff"/>
<ellipse cx="371.0" cy="173.0" rx="2.77" ry="2.51" fill="#28c8f8"/>
<ellipse cx="371.0" cy="173.0" rx="2.18" ry="1.98" fill="#8ce840"/>
<ellipse cx="371.0" cy="173.0" rx="1.68" ry="1.52" fill="#f0e028"/>
<ellipse cx="371.0" cy="173.0" rx="1.18" ry="1.06" fill="#e01a10"/>
<ellipse cx="387.0" cy="171.0" rx="4.00" ry="3.50" fill="#6a34f0"/>
<ellipse cx="387.0" cy="171.0" rx="3.44" ry="3.01" fill="#2034ff"/>
<ellipse cx="387.0" cy="171.0" rx="2.64" ry="2.31" fill="#28c8f8"/>
<ellipse cx="387.0" cy="171.0" rx="2.08" ry="1.82" fill="#8ce840"/>
<ellipse cx="387.0" cy="171.0" rx="1.60" ry="1.40" fill="#f0e028"/>
<ellipse cx="403.5" cy="161.3" rx="5.20" ry="4.80" fill="#6a34f0"/>
<ellipse cx="403.5" cy="161.3" rx="4.47" ry="4.13" fill="#2034ff"/>
<ellipse cx="403.5" cy="161.3" rx="3.43" ry="3.17" fill="#28c8f8"/>
<ellipse cx="403.5" cy="161.3" rx="2.70" ry="2.50" fill="#8ce840"/>
<ellipse cx="403.5" cy="161.3" rx="2.08" ry="1.92" fill="#f0e028"/>
<ellipse cx="403.5" cy="161.3" rx="1.46" ry="1.34" fill="#e01a10"/>
<ellipse cx="422.0" cy="170.5" rx="4.60" ry="4.00" fill="#6a34f0"/>
<ellipse cx="422.0" cy="170.5" rx="3.96" ry="3.44" fill="#2034ff"/>
<ellipse cx="422.0" cy="170.5" rx="3.04" ry="2.64" fill="#28c8f8"/>
<ellipse cx="422.0" cy="170.5" rx="2.39" ry="2.08" fill="#8ce840"/>
<ellipse cx="422.0" cy="170.5" rx="1.84" ry="1.60" fill="#f0e028"/>
<ellipse cx="422.0" cy="170.5" rx="1.29" ry="1.12" fill="#e01a10"/>
<ellipse cx="398.0" cy="170.0" rx="2.50" ry="2.50" fill="#6a34f0"/>
<ellipse cx="398.0" cy="170.0" rx="2.15" ry="2.15" fill="#2034ff"/>
<ellipse cx="398.0" cy="170.0" rx="1.65" ry="1.65" fill="#28c8f8"/>
<ellipse cx="384.0" cy="154.0" rx="2.20" ry="2.20" fill="#6a34f0"/>
<ellipse cx="384.0" cy="154.0" rx="1.89" ry="1.89" fill="#2034ff"/>
<ellipse cx="384.0" cy="154.0" rx="1.45" ry="1.45" fill="#28c8f8"/>
<ellipse cx="357.0" cy="176.0" rx="1.80" ry="1.50" fill="#6a34f0"/>
<ellipse cx="357.0" cy="176.0" rx="1.55" ry="1.29" fill="#2034ff"/>
<ellipse cx="357.0" cy="176.0" rx="1.19" ry="0.99" fill="#28c8f8"/>
<ellipse cx="400.0" cy="177.0" rx="2.00" ry="1.60" fill="#6a34f0"/>
<ellipse cx="400.0" cy="177.0" rx="1.72" ry="1.38" fill="#2034ff"/>
<ellipse cx="400.0" cy="177.0" rx="1.32" ry="1.06" fill="#28c8f8"/>
</g></g>
<rect x="354.4" y="185.4" width="71.1" height="41.4" fill="url(#stripes)"/>
<rect x="354.4" y="185.4" width="71.1" height="3.0" fill="#505050"/>
<rect x="354.4" y="222.3" width="71.1" height="4.5" fill="#333"/>
<rect x="354.4" y="185.4" width="71.1" height="41.4" fill="none" stroke="#262626" stroke-width="1"/>
<g filter="url(#mtex)">
<g transform="translate(365.9,190.4) rotate(-4.3 0 17)"><path d="M-4.2,26.5 L-6.6,31.5 M4.2,26.5 L6.6,31.5 M0,29.5 L-1.8,34.5 M-4.8,12.5 L-6.4,15.2 M4.8,12.5 L6.4,15.2" stroke="#b8b8b8" stroke-width="1.3" stroke-linecap="round" fill="none"/><use href="#mp" fill="url(#mg)"/></g>
<g transform="translate(381.6,190.4) rotate(-4.3 0 17)"><path d="M-4.2,26.5 L-6.6,31.5 M4.2,26.5 L6.6,31.5 M0,29.5 L-1.8,34.5 M-4.8,12.5 L-6.4,15.2 M4.8,12.5 L6.4,15.2" stroke="#b8b8b8" stroke-width="1.3" stroke-linecap="round" fill="none"/><use href="#mp" fill="url(#mg)"/></g>
<g transform="translate(397.0,190.4) rotate(-2.7 0 17)"><path d="M-4.2,26.5 L-6.6,31.5 M4.2,26.5 L6.6,31.5 M0,29.5 L-1.8,34.5 M-4.8,12.5 L-6.4,15.2 M4.8,12.5 L6.4,15.2" stroke="#b8b8b8" stroke-width="1.3" stroke-linecap="round" fill="none"/><use href="#mp" fill="url(#mg)"/></g>
<g transform="translate(413.7,190.4) rotate(-3.2 0 17)"><path d="M-4.2,26.5 L-6.6,31.5 M4.2,26.5 L6.6,31.5 M0,29.5 L-1.8,34.5 M-4.8,12.5 L-6.4,15.2 M4.8,12.5 L6.4,15.2" stroke="#b8b8b8" stroke-width="1.3" stroke-linecap="round" fill="none"/><use href="#mp" fill="url(#mg)"/></g>
</g>
<clipPath id="cp3"><use href="#mp" transform="translate(365.9,190.4) rotate(-4.3 0 17) translate(0,17) scale(1.25,1.06) translate(0,-17)"/><use href="#mp" transform="translate(381.6,190.4) rotate(-4.3 0 17) translate(0,17) scale(1.25,1.06) translate(0,-17)"/><use href="#mp" transform="translate(397.0,190.4) rotate(-2.7 0 17) translate(0,17) scale(1.25,1.06) translate(0,-17)"/><use href="#mp" transform="translate(413.7,190.4) rotate(-3.2 0 17) translate(0,17) scale(1.25,1.06) translate(0,-17)"/><rect x="354.4" y="212.4" width="71.1" height="13.4"/></clipPath>
<g clip-path="url(#cp3)"><g filter="url(#irr)">
<ellipse cx="362.0" cy="200.0" rx="3.00" ry="2.50" fill="#6a34f0"/>
<ellipse cx="362.0" cy="200.0" rx="1.90" ry="1.40" fill="#2a2cff"/>
<ellipse cx="366.0" cy="203.0" rx="2.00" ry="1.80" fill="#6a34f0"/>
<ellipse cx="366.0" cy="203.0" rx="0.90" ry="0.70" fill="#2a2cff"/>
<ellipse cx="364.5" cy="217.0" rx="7.50" ry="4.20" fill="#6a34f0"/>
<ellipse cx="364.5" cy="217.0" rx="6.40" ry="3.10" fill="#2a2cff"/>
<ellipse cx="379.0" cy="206.7" rx="4.20" ry="3.80" fill="#6a34f0"/>
<ellipse cx="379.0" cy="206.7" rx="3.10" ry="2.70" fill="#2a2cff"/>
<ellipse cx="381.0" cy="217.5" rx="7.00" ry="3.80" fill="#6a34f0"/>
<ellipse cx="381.0" cy="217.5" rx="5.90" ry="2.70" fill="#2a2cff"/>
<ellipse cx="398.8" cy="200.0" rx="5.00" ry="4.20" fill="#6a34f0"/>
<ellipse cx="398.8" cy="200.0" rx="3.90" ry="3.10" fill="#2a2cff"/>
<ellipse cx="396.0" cy="216.0" rx="8.00" ry="4.50" fill="#6a34f0"/>
<ellipse cx="396.0" cy="216.0" rx="6.90" ry="3.40" fill="#2a2cff"/>
<ellipse cx="416.0" cy="219.0" rx="7.00" ry="3.80" fill="#6a34f0"/>
<ellipse cx="416.0" cy="219.0" rx="5.90" ry="2.70" fill="#2a2cff"/>
<ellipse cx="409.0" cy="217.5" rx="2.50" ry="2.00" fill="#6a34f0"/>
<ellipse cx="409.0" cy="217.5" rx="1.40" ry="0.90" fill="#2a2cff"/>
<ellipse cx="370.3" cy="217.0" rx="4.00" ry="3.60" fill="#6a34f0"/>
<ellipse cx="370.3" cy="217.0" rx="3.44" ry="3.10" fill="#2034ff"/>
<ellipse cx="370.3" cy="217.0" rx="2.64" ry="2.38" fill="#28c8f8"/>
<ellipse cx="370.3" cy="217.0" rx="2.08" ry="1.87" fill="#8ce840"/>
<ellipse cx="370.3" cy="217.0" rx="1.60" ry="1.44" fill="#f0e028"/>
<ellipse cx="370.3" cy="217.0" rx="1.12" ry="1.01" fill="#e01a10"/>
<ellipse cx="379.0" cy="206.7" rx="3.20" ry="3.00" fill="#6a34f0"/>
<ellipse cx="379.0" cy="206.7" rx="2.75" ry="2.58" fill="#2034ff"/>
<ellipse cx="379.0" cy="206.7" rx="2.11" ry="1.98" fill="#28c8f8"/>
<ellipse cx="379.0" cy="206.7" rx="1.66" ry="1.56" fill="#8ce840"/>
<ellipse cx="381.0" cy="218.0" rx="2.20" ry="2.00" fill="#6a34f0"/>
<ellipse cx="381.0" cy="218.0" rx="1.89" ry="1.72" fill="#2034ff"/>
<ellipse cx="381.0" cy="218.0" rx="1.45" ry="1.32" fill="#28c8f8"/>
<ellipse cx="392.2" cy="217.0" rx="3.40" ry="3.20" fill="#6a34f0"/>
<ellipse cx="392.2" cy="217.0" rx="2.92" ry="2.75" fill="#2034ff"/>
<ellipse cx="392.2" cy="217.0" rx="2.24" ry="2.11" fill="#28c8f8"/>
<ellipse cx="392.2" cy="217.0" rx="1.77" ry="1.66" fill="#8ce840"/>
<ellipse cx="392.2" cy="217.0" rx="1.36" ry="1.28" fill="#f0e028"/>
<ellipse cx="392.2" cy="217.0" rx="0.95" ry="0.90" fill="#e01a10"/>
<ellipse cx="399.5" cy="213.7" rx="3.80" ry="3.50" fill="#6a34f0"/>
<ellipse cx="399.5" cy="213.7" rx="3.27" ry="3.01" fill="#2034ff"/>
<ellipse cx="399.5" cy="213.7" rx="2.51" ry="2.31" fill="#28c8f8"/>
<ellipse cx="399.5" cy="213.7" rx="1.98" ry="1.82" fill="#8ce840"/>
<ellipse cx="399.5" cy="213.7" rx="1.52" ry="1.40" fill="#f0e028"/>
<ellipse cx="399.5" cy="213.7" rx="1.06" ry="0.98" fill="#e01a10"/>
<ellipse cx="414.1" cy="208.2" rx="7.00" ry="6.30" fill="#6a34f0"/>
<ellipse cx="414.1" cy="208.2" rx="6.02" ry="5.42" fill="#2034ff"/>
<ellipse cx="414.1" cy="208.2" rx="4.62" ry="4.16" fill="#28c8f8"/>
<ellipse cx="414.1" cy="208.2" rx="3.64" ry="3.28" fill="#8ce840"/>
<ellipse cx="414.1" cy="208.2" rx="2.80" ry="2.52" fill="#f0e028"/>
<ellipse cx="414.1" cy="208.2" rx="1.96" ry="1.76" fill="#e01a10"/>
<ellipse cx="418.5" cy="217.0" rx="2.80" ry="2.40" fill="#6a34f0"/>
<ellipse cx="418.5" cy="217.0" rx="2.41" ry="2.06" fill="#2034ff"/>
<ellipse cx="418.5" cy="217.0" rx="1.85" ry="1.58" fill="#28c8f8"/>
<ellipse cx="418.5" cy="217.0" rx="1.46" ry="1.25" fill="#8ce840"/>
</g></g>
<rect x="354.4" y="230.4" width="71.1" height="42.2" fill="#2a2a66" filter="url(#spk2)"/>
<rect x="354.4" y="230.4" width="71.1" height="2.2" fill="#6a6aa8" opacity="0.8"/>
<rect x="354.4" y="230.4" width="71.1" height="42.2" fill="none" stroke="#262626" stroke-width="1"/>
<g filter="url(#spk)">
<use href="#mp" transform="translate(365.9,235.4) rotate(-1.3 0 17)" fill="#e6e2fa"/>
<use href="#mp" transform="translate(381.6,235.4) rotate(-4.4 0 17)" fill="#e6e2fa"/>
<use href="#mp" transform="translate(397.0,235.4) rotate(-5.0 0 17)" fill="#e6e2fa"/>
<use href="#mp" transform="translate(413.7,235.4) rotate(-3.3 0 17)" fill="#e6e2fa"/>
</g>
<clipPath id="cp4"><use href="#mp" transform="translate(365.9,235.4) rotate(-1.3 0 17) translate(0,17) scale(1.25,1.06) translate(0,-17)"/><use href="#mp" transform="translate(381.6,235.4) rotate(-4.4 0 17) translate(0,17) scale(1.25,1.06) translate(0,-17)"/><use href="#mp" transform="translate(397.0,235.4) rotate(-5.0 0 17) translate(0,17) scale(1.25,1.06) translate(0,-17)"/><use href="#mp" transform="translate(413.7,235.4) rotate(-3.3 0 17) translate(0,17) scale(1.25,1.06) translate(0,-17)"/></clipPath>
<g clip-path="url(#cp4)"><g filter="url(#irr)">
<ellipse cx="377.0" cy="250.5" rx="2.20" ry="2.20" fill="#6a34f0"/>
<ellipse cx="377.0" cy="250.5" rx="1.47" ry="1.47" fill="#2a30ff"/>
<ellipse cx="377.0" cy="250.5" rx="0.73" ry="0.73" fill="#28c8f8"/>
<ellipse cx="381.0" cy="256.0" rx="1.60" ry="1.60" fill="#6a34f0"/>
<ellipse cx="381.0" cy="256.0" rx="1.07" ry="1.07" fill="#2a30ff"/>
<ellipse cx="381.0" cy="256.0" rx="0.60" ry="0.53" fill="#28c8f8"/>
<ellipse cx="379.0" cy="264.0" rx="2.40" ry="1.60" fill="#6a34f0"/>
<ellipse cx="379.0" cy="264.0" rx="1.60" ry="1.07" fill="#2a30ff"/>
<ellipse cx="379.0" cy="264.0" rx="0.80" ry="0.53" fill="#28c8f8"/>
<ellipse cx="377.5" cy="244.0" rx="2.00" ry="2.00" fill="#6a34f0"/>
<ellipse cx="377.5" cy="244.0" rx="1.00" ry="1.00" fill="#2a30ff"/>
<use href="#mp" transform="translate(413.7,235.4) rotate(-3.3 0 17) translate(0,17) scale(1.15,1.02) translate(0,-17)" fill="#3040ff" opacity="1"/>
<use href="#mp" transform="translate(413.7,235.4) rotate(-3.3 0 17) translate(0,16.5) scale(1.05,0.8) translate(0,-17)" fill="#30c8f0" opacity="1"/>
<use href="#mp" transform="translate(413.7,235.4) rotate(-3.3 0 17) translate(0,16) scale(1.0,0.66) translate(0,-17)" fill="#90e840" opacity="1"/>
<use href="#mp" transform="translate(413.7,235.4) rotate(-3.3 0 17) translate(0,15.5) scale(0.95,0.56) translate(0,-17)" fill="#f0e030" opacity="1"/>
<use href="#mp" transform="translate(413.7,235.4) rotate(-3.3 0 17) translate(0,14.5) scale(0.92,0.5) translate(0,-17)" fill="#e01a10" opacity="1"/>
<ellipse cx="418.2" cy="259.5" rx="2.6" ry="1.8" fill="#f0e028" opacity="1"/>
</g></g>
<rect x="354.4" y="276" width="71.1" height="41.6" fill="url(#stripes)"/>
<rect x="354.4" y="276" width="71.1" height="3.0" fill="#505050"/>
<rect x="354.4" y="313.1" width="71.1" height="4.5" fill="#333"/>
<rect x="354.4" y="276" width="71.1" height="41.6" fill="none" stroke="#262626" stroke-width="1"/>
<g filter="url(#mtex)">
<g transform="translate(365.9,281.0) rotate(-3.9 0 17)"><path d="M-4.2,26.5 L-6.6,31.5 M4.2,26.5 L6.6,31.5 M0,29.5 L-1.8,34.5 M-4.8,12.5 L-6.4,15.2 M4.8,12.5 L6.4,15.2" stroke="#b8b8b8" stroke-width="1.3" stroke-linecap="round" fill="none"/><use href="#mp" fill="url(#mg)"/></g>
<g transform="translate(381.6,281.0) rotate(-1.0 0 17)"><path d="M-4.2,26.5 L-6.6,31.5 M4.2,26.5 L6.6,31.5 M0,29.5 L-1.8,34.5 M-4.8,12.5 L-6.4,15.2 M4.8,12.5 L6.4,15.2" stroke="#b8b8b8" stroke-width="1.3" stroke-linecap="round" fill="none"/><use href="#mp" fill="url(#mg)"/></g>
<g transform="translate(397.0,281.0) rotate(-4.7 0 17)"><path d="M-4.2,26.5 L-6.6,31.5 M4.2,26.5 L6.6,31.5 M0,29.5 L-1.8,34.5 M-4.8,12.5 L-6.4,15.2 M4.8,12.5 L6.4,15.2" stroke="#b8b8b8" stroke-width="1.3" stroke-linecap="round" fill="none"/><use href="#mp" fill="url(#mg)"/></g>
<g transform="translate(413.7,281.0) rotate(4.6 0 17)"><path d="M-4.2,26.5 L-6.6,31.5 M4.2,26.5 L6.6,31.5 M0,29.5 L-1.8,34.5 M-4.8,12.5 L-6.4,15.2 M4.8,12.5 L6.4,15.2" stroke="#b8b8b8" stroke-width="1.3" stroke-linecap="round" fill="none"/><use href="#mp" fill="url(#mg)"/></g>
</g>
<clipPath id="cp5"><use href="#mp" transform="translate(365.9,281.0) rotate(-3.9 0 17) translate(0,17) scale(1.25,1.06) translate(0,-17)"/><use href="#mp" transform="translate(381.6,281.0) rotate(-1.0 0 17) translate(0,17) scale(1.25,1.06) translate(0,-17)"/><use href="#mp" transform="translate(397.0,281.0) rotate(-4.7 0 17) translate(0,17) scale(1.25,1.06) translate(0,-17)"/><use href="#mp" transform="translate(413.7,281.0) rotate(4.6 0 17) translate(0,17) scale(1.25,1.06) translate(0,-17)"/></clipPath>
<g clip-path="url(#cp5)"><g filter="url(#irr)">
<use href="#mp" transform="translate(381.6,281.0) rotate(-1.0 0 17) translate(0,17) scale(1.18,1.03) translate(0,-17)" fill="#2850ff" opacity="1"/>
<use href="#mp" transform="translate(381.6,281.0) rotate(-1.0 0 17) translate(0,17.5) scale(1.12,0.94) translate(0,-17)" fill="#30c8f0" opacity="1"/>
<use href="#mp" transform="translate(381.6,281.0) rotate(-1.0 0 17) translate(0,17.5) scale(1.06,0.82) translate(0,-17)" fill="#90e840" opacity="1"/>
<use href="#mp" transform="translate(381.6,281.0) rotate(-1.0 0 17) translate(0,17) scale(0.98,0.62) translate(0,-17)" fill="#f0e030" opacity="1"/>
<use href="#mp" transform="translate(381.6,281.0) rotate(-1.0 0 17) translate(0,17) scale(0.86,0.4) translate(0,-17)" fill="#e01a10" opacity="1"/>
<use href="#mp" transform="translate(413.7,281.0) rotate(4.6 0 17) translate(0,17) scale(1.18,1.03) translate(0,-17)" fill="#2850ff" opacity="1"/>
<use href="#mp" transform="translate(413.7,281.0) rotate(4.6 0 17) translate(0,17.5) scale(1.12,0.94) translate(0,-17)" fill="#30c8f0" opacity="1"/>
<use href="#mp" transform="translate(413.7,281.0) rotate(4.6 0 17) translate(0,17.5) scale(1.06,0.82) translate(0,-17)" fill="#90e840" opacity="1"/>
<use href="#mp" transform="translate(413.7,281.0) rotate(4.6 0 17) translate(0,17) scale(0.98,0.62) translate(0,-17)" fill="#f0e030" opacity="1"/>
<use href="#mp" transform="translate(413.7,281.0) rotate(4.6 0 17) translate(0,17) scale(0.86,0.48) translate(0,-17)" fill="#e01a10" opacity="1"/>
<ellipse cx="400.0" cy="306.0" rx="4.00" ry="2.50" fill="#6a34f0"/>
<ellipse cx="400.0" cy="306.0" rx="2.00" ry="1.25" fill="#2a30ff"/>
<ellipse cx="397.0" cy="312.0" rx="2.00" ry="1.50" fill="#6a34f0"/>
<ellipse cx="397.0" cy="312.0" rx="1.00" ry="0.75" fill="#2a30ff"/>
<ellipse cx="364.0" cy="309.0" rx="2.00" ry="2.00" fill="#6a34f0"/>
<ellipse cx="364.0" cy="309.0" rx="1.00" ry="1.00" fill="#2a30ff"/>
<ellipse cx="362.0" cy="283.0" rx="1.20" ry="1.20" fill="#6a34f0"/>
<ellipse cx="362.0" cy="283.0" rx="0.60" ry="0.60" fill="#2a30ff"/>
</g></g>
<rect x="354.4" y="320.9" width="71.1" height="41.4" fill="#2a2a66" filter="url(#spk2)"/>
<rect x="354.4" y="320.9" width="71.1" height="2.2" fill="#6a6aa8" opacity="0.8"/>
<rect x="354.4" y="320.9" width="71.1" height="41.4" fill="none" stroke="#262626" stroke-width="1"/>
<g filter="url(#spk)">
<use href="#mp" transform="translate(365.9,325.9) rotate(1.8 0 17)" fill="#e6e2fa"/>
<use href="#mp" transform="translate(381.6,325.9) rotate(-3.4 0 17)" fill="#e6e2fa"/>
<use href="#mp" transform="translate(397.0,325.9) rotate(-2.2 0 17)" fill="#e6e2fa"/>
<use href="#mp" transform="translate(413.7,325.9) rotate(-1.2 0 17)" fill="#e6e2fa"/>
</g>
<clipPath id="cp6"><use href="#mp" transform="translate(365.9,325.9) rotate(1.8 0 17) translate(0,17) scale(1.25,1.06) translate(0,-17)"/><use href="#mp" transform="translate(381.6,325.9) rotate(-3.4 0 17) translate(0,17) scale(1.25,1.06) translate(0,-17)"/><use href="#mp" transform="translate(397.0,325.9) rotate(-2.2 0 17) translate(0,17) scale(1.25,1.06) translate(0,-17)"/><use href="#mp" transform="translate(413.7,325.9) rotate(-1.2 0 17) translate(0,17) scale(1.25,1.06) translate(0,-17)"/></clipPath>
<g clip-path="url(#cp6)"><g filter="url(#irr)">
<use href="#mp" transform="translate(381.6,325.9) rotate(-3.4 0 17) translate(0,17) scale(1.2,1.03) translate(0,-17)" fill="#2848ff" opacity="1"/>
<use href="#mp" transform="translate(381.6,325.9) rotate(-3.4 0 17) translate(0,17) scale(1.14,0.97) translate(0,-17)" fill="#30c8f0" opacity="1"/>
<use href="#mp" transform="translate(381.6,325.9) rotate(-3.4 0 17) translate(0,17.5) scale(1.08,0.9) translate(0,-17)" fill="#e01a10" opacity="1"/>
<use href="#mp" transform="translate(413.7,325.9) rotate(-1.2 0 17) translate(0,17) scale(1.1,1.0) translate(0,-17)" fill="#2838ff" opacity="1"/>
<use href="#mp" transform="translate(413.7,325.9) rotate(-1.2 0 17) translate(0,18.5) scale(0.95,0.8) translate(0,-17)" fill="#28b8f8" opacity="1"/>
<ellipse cx="414.0" cy="337.0" rx="4.5" ry="2.4" fill="#9cec3a" opacity="1"/>
<ellipse cx="416.0" cy="336.5" rx="3" ry="1.5" fill="#f0e028" opacity="1"/>
<ellipse cx="411.0" cy="344.0" rx="3.5" ry="2.2" fill="#9cec3a" opacity="1"/>
<ellipse cx="418.0" cy="343.0" rx="3.2" ry="2.2" fill="#f0e028" opacity="1"/>
<ellipse cx="418.5" cy="343.0" rx="1.8" ry="1.3" fill="#e01a10" opacity="1"/>
<ellipse cx="413.0" cy="350.0" rx="4.5" ry="2.5" fill="#9cec3a" opacity="1"/>
<ellipse cx="414.0" cy="350.0" rx="3" ry="1.6" fill="#f0e028" opacity="1"/>
<ellipse cx="412.5" cy="350.0" rx="1.6" ry="1.1" fill="#e01a10" opacity="1"/>
<ellipse cx="418.0" cy="353.0" rx="2.6" ry="1.8" fill="#9cec3a" opacity="1"/>
</g></g>
<text x="9.2" y="22.6" font-size="15.6" text-anchor="start" font-weight="bold" fill="#000" stroke="#000" stroke-width="0.3" >A</text>
<text x="60" y="29" font-size="10.5" text-anchor="start" font-weight="normal" fill="#000" stroke="#000" stroke-width="0.28" textLength="63" lengthAdjust="spacingAndGlyphs" >iRC9-ΔCD19</text>
<text x="78" y="45" font-size="10.5" text-anchor="start" font-weight="normal" fill="#000" stroke="#000" stroke-width="0.28" textLength="17" lengthAdjust="spacingAndGlyphs" >Rim</text>
<text x="157" y="19" font-size="10.5" text-anchor="start" font-weight="normal" fill="#000" stroke="#000" stroke-width="0.28" textLength="85.5" lengthAdjust="spacingAndGlyphs" >iRC9-ΔCD19-iMC</text>
<line x1="130" y1="25.4" x2="270" y2="25.4" stroke="#000" stroke-width="1.1"/>
<text x="151" y="45" font-size="10.5" text-anchor="start" font-weight="normal" fill="#000" stroke="#000" stroke-width="0.28" textLength="16.5" lengthAdjust="spacingAndGlyphs" >Veh</text>
<text x="228" y="45" font-size="10.5" text-anchor="start" font-weight="normal" fill="#000" stroke="#000" stroke-width="0.28" textLength="17" lengthAdjust="spacingAndGlyphs" >Rim</text>
<text x="296" y="19" font-size="10.5" text-anchor="start" font-weight="normal" fill="#000" stroke="#000" stroke-width="0.28" textLength="110" lengthAdjust="spacingAndGlyphs" >iRC9-IL15-ΔCD19-iMC</text>
<line x1="279" y1="25.4" x2="423.6" y2="25.4" stroke="#000" stroke-width="1.1"/>
<text x="305" y="45" font-size="10.5" text-anchor="start" font-weight="normal" fill="#000" stroke="#000" stroke-width="0.28" textLength="17" lengthAdjust="spacingAndGlyphs" >Veh</text>
<text x="379" y="45" font-size="10.5" text-anchor="start" font-weight="normal" fill="#000" stroke="#000" stroke-width="0.28" textLength="17.5" lengthAdjust="spacingAndGlyphs" >Rim</text>
<text x="46.3" y="68.7" font-size="10.5" text-anchor="end" font-weight="normal" fill="#000" stroke="#000" stroke-width="0.28" >0</text>
<text x="46.3" y="121.4" font-size="10.5" text-anchor="end" font-weight="normal" fill="#000" stroke="#000" stroke-width="0.28" >6</text>
<text x="46.3" y="163" font-size="10.5" text-anchor="end" font-weight="normal" fill="#000" stroke="#000" stroke-width="0.28" >13</text>
<text x="46.3" y="215.6" font-size="10.5" text-anchor="end" font-weight="normal" fill="#000" stroke="#000" stroke-width="0.28" >20</text>
<text x="46.3" y="256.3" font-size="10.5" text-anchor="end" font-weight="normal" fill="#000" stroke="#000" stroke-width="0.28" >27</text>
<text x="46.3" y="307.6" font-size="10.5" text-anchor="end" font-weight="normal" fill="#000" stroke="#000" stroke-width="0.28" >34</text>
<text x="46.3" y="344.4" font-size="10.5" text-anchor="end" font-weight="normal" fill="#000" stroke="#000" stroke-width="0.28" >41</text>
<line x1="25.5" y1="52" x2="25.5" y2="356" stroke="#000" stroke-width="1.1"/>
<text x="0" y="0" font-size="10.5" text-anchor="middle" font-weight="normal" fill="#000" stroke="#000" stroke-width="0.28" textLength="105" lengthAdjust="spacingAndGlyphs" transform="translate(18.6,204) rotate(-90)">Days post-NK injection</text>
<rect x="444.1" y="115.4" width="11.3" height="138" fill="url(#cbar)" stroke="#000" stroke-width="1.3"/>
<text x="444.2" y="102.6" font-size="10.5" text-anchor="start" font-weight="normal" fill="#000" stroke="#000" stroke-width="0.28" textLength="66.2" lengthAdjust="spacingAndGlyphs" >Luminescence</text>
<line x1="455.5" y1="115.8" x2="460" y2="115.8" stroke="#111" stroke-width="1"/>
<line x1="455.5" y1="147.6" x2="459.6" y2="147.6" stroke="#111" stroke-width="1"/>
<line x1="455.5" y1="152.4" x2="459.6" y2="152.4" stroke="#111" stroke-width="1"/>
<line x1="455.5" y1="157.8" x2="459.6" y2="157.8" stroke="#111" stroke-width="1"/>
<line x1="455.5" y1="163.9" x2="459.6" y2="163.9" stroke="#111" stroke-width="1"/>
<line x1="455.5" y1="171" x2="459.6" y2="171" stroke="#111" stroke-width="1"/>
<line x1="455.5" y1="179.4" x2="459.6" y2="179.4" stroke="#111" stroke-width="1"/>
<line x1="455.5" y1="189.6" x2="459.6" y2="189.6" stroke="#111" stroke-width="1"/>
<line x1="455.5" y1="202.8" x2="459.6" y2="202.8" stroke="#111" stroke-width="1"/>
<line x1="455.5" y1="221.4" x2="459.6" y2="221.4" stroke="#111" stroke-width="1"/>
<line x1="455.5" y1="253.4" x2="460" y2="253.4" stroke="#111" stroke-width="1"/>
<text x="464.5" y="118.9" font-size="10.5" text-anchor="start" font-weight="normal" fill="#000" stroke="#000" stroke-width="0.28" >2</text>
<text x="464.5" y="152.7" font-size="10" text-anchor="start" font-weight="normal" fill="#000" stroke="#000" stroke-width="0.28" textLength="11.2" lengthAdjust="spacingAndGlyphs" >10</text>
<text x="476.6" y="148.6" font-size="7.2" text-anchor="start" font-weight="normal" fill="#000" stroke="#000" stroke-width="0.15" >6</text>
<text x="464.5" y="160.5" font-size="10" text-anchor="start" font-weight="normal" fill="#000" stroke="#000" stroke-width="0.28" >s</text>
<text x="464.5" y="173.8" font-size="10.5" text-anchor="start" font-weight="normal" fill="#000" stroke="#000" stroke-width="0.28" >6</text>
<text x="464.5" y="182.6" font-size="10.5" text-anchor="start" font-weight="normal" fill="#000" stroke="#000" stroke-width="0.28" >5</text>
<text x="464.5" y="193" font-size="10.5" text-anchor="start" font-weight="normal" fill="#000" stroke="#000" stroke-width="0.28" >4</text>
<text x="464.5" y="206.2" font-size="10.5" text-anchor="start" font-weight="normal" fill="#000" stroke="#000" stroke-width="0.28" >3</text>
<text x="464.5" y="224.8" font-size="10.5" text-anchor="start" font-weight="normal" fill="#000" stroke="#000" stroke-width="0.28" >2</text>
<text x="464.5" y="258.6" font-size="10" text-anchor="start" font-weight="normal" fill="#000" stroke="#000" stroke-width="0.28" textLength="11.2" lengthAdjust="spacingAndGlyphs" >10</text>
<text x="476.6" y="254.5" font-size="7.2" text-anchor="start" font-weight="normal" fill="#000" stroke="#000" stroke-width="0.15" >5</text>
<text x="440" y="275.2" font-size="10.5" text-anchor="start" font-weight="normal" fill="#000" stroke="#000" stroke-width="0.28" textLength="42.3" lengthAdjust="spacingAndGlyphs" >Radiance</text>
<text x="440" y="287.9" font-size="10.5" text-anchor="start" font-weight="normal" fill="#000" stroke="#000" stroke-width="0.28" textLength="44.5" lengthAdjust="spacingAndGlyphs" >(p/sec/cm</text>
<text x="484.7" y="283" font-size="7" text-anchor="start" font-weight="normal" fill="#000" stroke="#000" stroke-width="0.28" >2</text>
<text x="489.3" y="287.9" font-size="10.5" text-anchor="start" font-weight="normal" fill="#000" stroke="#000" stroke-width="0.28" textLength="16.5" lengthAdjust="spacingAndGlyphs" >/sr)</text>
<rect x="439.7" y="299.5" width="70.8" height="41.6" fill="none" stroke="#111" stroke-width="1"/>
<text x="442.5" y="310.4" font-size="10.5" text-anchor="start" font-weight="normal" fill="#000" stroke="#000" stroke-width="0.28" textLength="54" lengthAdjust="spacingAndGlyphs" >Color Scale</text>
<text x="442.5" y="324.1" font-size="10.5" text-anchor="start" font-weight="normal" fill="#000" stroke="#000" stroke-width="0.28" textLength="63" lengthAdjust="spacingAndGlyphs" >Min = 1.00e5</text>
<text x="442.5" y="336.8" font-size="10.5" text-anchor="start" font-weight="normal" fill="#000" stroke="#000" stroke-width="0.28" textLength="65" lengthAdjust="spacingAndGlyphs" >Max = 2.00e6</text>
<text x="9.4" y="392.9" font-size="15.6" text-anchor="start" font-weight="bold" fill="#000" stroke="#000" stroke-width="0.3" >B</text>
<line x1="80.6" y1="401.5" x2="80.6" y2="530.6" stroke="#111" stroke-width="1.2"/>
<line x1="80.6" y1="530.6" x2="269" y2="530.6" stroke="#111" stroke-width="1.2"/>
<line x1="76.2" y1="530.6" x2="80.6" y2="530.6" stroke="#111" stroke-width="1"/>
<text x="55.6" y="536.2" font-size="10" text-anchor="start" font-weight="normal" fill="#000" stroke="#000" stroke-width="0.28" textLength="11.4" lengthAdjust="spacingAndGlyphs" >10</text>
<text x="67.6" y="532.0" font-size="7.8" text-anchor="start" font-weight="normal" fill="#000" stroke="#000" stroke-width="0.15" >2</text>
<line x1="76.2" y1="505.4" x2="80.6" y2="505.4" stroke="#111" stroke-width="1"/>
<text x="55.6" y="511.00000000000006" font-size="10" text-anchor="start" font-weight="normal" fill="#000" stroke="#000" stroke-width="0.28" textLength="11.4" lengthAdjust="spacingAndGlyphs" >10</text>
<text x="67.6" y="506.8" font-size="7.8" text-anchor="start" font-weight="normal" fill="#000" stroke="#000" stroke-width="0.15" >3</text>
<line x1="76.2" y1="480.2" x2="80.6" y2="480.2" stroke="#111" stroke-width="1"/>
<text x="55.6" y="485.80000000000007" font-size="10" text-anchor="start" font-weight="normal" fill="#000" stroke="#000" stroke-width="0.28" textLength="11.4" lengthAdjust="spacingAndGlyphs" >10</text>
<text x="67.6" y="481.6" font-size="7.8" text-anchor="start" font-weight="normal" fill="#000" stroke="#000" stroke-width="0.15" >4</text>
<line x1="76.2" y1="455.0" x2="80.6" y2="455.0" stroke="#111" stroke-width="1"/>
<text x="55.6" y="460.6" font-size="10" text-anchor="start" font-weight="normal" fill="#000" stroke="#000" stroke-width="0.28" textLength="11.4" lengthAdjust="spacingAndGlyphs" >10</text>
<text x="67.6" y="456.4" font-size="7.8" text-anchor="start" font-weight="normal" fill="#000" stroke="#000" stroke-width="0.15" >5</text>
<line x1="76.2" y1="429.8" x2="80.6" y2="429.8" stroke="#111" stroke-width="1"/>
<text x="55.6" y="435.40000000000003" font-size="10" text-anchor="start" font-weight="normal" fill="#000" stroke="#000" stroke-width="0.28" textLength="11.4" lengthAdjust="spacingAndGlyphs" >10</text>
<text x="67.6" y="431.2" font-size="7.8" text-anchor="start" font-weight="normal" fill="#000" stroke="#000" stroke-width="0.15" >6</text>
<line x1="76.2" y1="404.6" x2="80.6" y2="404.6" stroke="#111" stroke-width="1"/>
<text x="55.6" y="410.20000000000005" font-size="10" text-anchor="start" font-weight="normal" fill="#000" stroke="#000" stroke-width="0.28" textLength="11.4" lengthAdjust="spacingAndGlyphs" >10</text>
<text x="67.6" y="406.0" font-size="7.8" text-anchor="start" font-weight="normal" fill="#000" stroke="#000" stroke-width="0.15" >7</text>
<line x1="80.6" y1="530.6" x2="80.6" y2="533.6" stroke="#111" stroke-width="1"/>
<text x="80.6" y="547.5" font-size="10.5" text-anchor="middle" font-weight="normal" fill="#000" stroke="#000" stroke-width="0.28" >0</text>
<line x1="125.3" y1="530.6" x2="125.3" y2="533.6" stroke="#111" stroke-width="1"/>
<text x="125.29999999999998" y="547.5" font-size="10.5" text-anchor="middle" font-weight="normal" fill="#000" stroke="#000" stroke-width="0.28" >10</text>
<line x1="170.0" y1="530.6" x2="170.0" y2="533.6" stroke="#111" stroke-width="1"/>
<text x="170.0" y="547.5" font-size="10.5" text-anchor="middle" font-weight="normal" fill="#000" stroke="#000" stroke-width="0.28" >20</text>
<line x1="214.7" y1="530.6" x2="214.7" y2="533.6" stroke="#111" stroke-width="1"/>
<text x="214.7" y="547.5" font-size="10.5" text-anchor="middle" font-weight="normal" fill="#000" stroke="#000" stroke-width="0.28" >30</text>
<line x1="259.4" y1="530.6" x2="259.4" y2="533.6" stroke="#111" stroke-width="1"/>
<text x="259.4" y="547.5" font-size="10.5" text-anchor="middle" font-weight="normal" fill="#000" stroke="#000" stroke-width="0.28" >40</text>
<text x="175" y="565.3" font-size="11.8" text-anchor="middle" font-weight="bold" fill="#111" textLength="88.2" lengthAdjust="spacingAndGlyphs" >Days post NK injection</text>
<text x="0" y="0" font-size="11.6" text-anchor="middle" font-weight="bold" fill="#000" transform="translate(47.6,468) rotate(-90) scale(0.77,1)">Avg radiance (p/sec/cm<tspan font-size="8" dy="-4.5">2</tspan><tspan dy="4.5">/sr)</tspan></text>
<polyline points="80.6,454.2 107.4,502.0 138.7,503.8 170.0,503.8 201.3,505.4 232.6,503.0 263.9,501.7" fill="none" stroke="#3d64a0" stroke-width="1.3" stroke-linejoin="round"/>
<rect x="78.1" y="451.7" width="5.0" height="5.0" fill="#fff" stroke="#3d64a0" stroke-width="1.3"/>
<rect x="104.9" y="499.5" width="5.0" height="5.0" fill="#fff" stroke="#3d64a0" stroke-width="1.3"/>
<rect x="136.2" y="501.3" width="5.0" height="5.0" fill="#fff" stroke="#3d64a0" stroke-width="1.3"/>
<rect x="167.5" y="501.3" width="5.0" height="5.0" fill="#fff" stroke="#3d64a0" stroke-width="1.3"/>
<rect x="198.8" y="502.9" width="5.0" height="5.0" fill="#fff" stroke="#3d64a0" stroke-width="1.3"/>
<rect x="230.1" y="500.5" width="5.0" height="5.0" fill="#fff" stroke="#3d64a0" stroke-width="1.3"/>
<rect x="261.4" y="499.2" width="5.0" height="5.0" fill="#fff" stroke="#3d64a0" stroke-width="1.3"/>
<line x1="138.7" y1="491.4" x2="138.7" y2="501.3" stroke="#27508c" stroke-width="1.1"/>
<line x1="136.1" y1="491.4" x2="141.3" y2="491.4" stroke="#27508c" stroke-width="1.1"/>
<line x1="136.1" y1="501.3" x2="141.3" y2="501.3" stroke="#27508c" stroke-width="1.1"/>
<polyline points="80.6,454.2 107.4,501.3 138.7,496.5 170.0,504.0 201.3,505.2 232.6,501.0 263.9,503.5" fill="none" stroke="#27508c" stroke-width="1.3" stroke-linejoin="round"/>
<rect x="78.1" y="451.7" width="5.0" height="5.0" fill="#27508c"/>
<rect x="104.9" y="498.8" width="5.0" height="5.0" fill="#27508c"/>
<rect x="136.2" y="494.0" width="5.0" height="5.0" fill="#27508c"/>
<rect x="167.5" y="501.5" width="5.0" height="5.0" fill="#27508c"/>
<rect x="198.8" y="502.7" width="5.0" height="5.0" fill="#27508c"/>
<rect x="230.1" y="498.5" width="5.0" height="5.0" fill="#27508c"/>
<rect x="261.4" y="501.0" width="5.0" height="5.0" fill="#27508c"/>
<polyline points="80.6,454.2 107.4,496.0 138.7,501.0 170.0,499.5 201.3,505.0 232.6,500.6 263.9,503.2" fill="none" stroke="#b5173f" stroke-width="1.3" stroke-linejoin="round"/>
<path d="M80.6,451.5 L83.2,456.0 L78.0,456.0 Z" fill="#b5173f"/>
<path d="M107.4,493.3 L110.0,497.8 L104.8,497.8 Z" fill="#b5173f"/>
<path d="M138.7,498.3 L141.3,502.8 L136.1,502.8 Z" fill="#b5173f"/>
<path d="M170.0,496.8 L172.6,501.3 L167.4,501.3 Z" fill="#b5173f"/>
<path d="M201.3,502.3 L203.9,506.8 L198.7,506.8 Z" fill="#b5173f"/>
<path d="M232.6,497.9 L235.2,502.4 L230.0,502.4 Z" fill="#b5173f"/>
<path d="M263.9,500.5 L266.5,505.0 L261.3,505.0 Z" fill="#b5173f"/>
<polyline points="80.6,454.0 107.4,502.4 138.7,503.9 170.0,504.0 201.3,505.0 232.6,504.4 263.9,504.6" fill="none" stroke="#68b043" stroke-width="1.3" stroke-linejoin="round"/>
<circle cx="80.6" cy="454.0" r="2.80" fill="#5da23b"/>
<circle cx="107.4" cy="502.4" r="2.80" fill="#5da23b"/>
<circle cx="138.7" cy="503.9" r="2.80" fill="#5da23b"/>
<circle cx="170.0" cy="504.0" r="2.80" fill="#5da23b"/>
<circle cx="201.3" cy="505.0" r="2.80" fill="#5da23b"/>
<circle cx="232.6" cy="504.4" r="2.80" fill="#5da23b"/>
<circle cx="263.9" cy="504.6" r="2.80" fill="#5da23b"/>
<line x1="138.7" y1="443.6" x2="138.7" y2="449.6" stroke="#b5173f" stroke-width="1.1"/>
<line x1="136.1" y1="443.6" x2="141.3" y2="443.6" stroke="#b5173f" stroke-width="1.1"/>
<line x1="136.1" y1="449.6" x2="141.3" y2="449.6" stroke="#b5173f" stroke-width="1.1"/>
<line x1="170.0" y1="448.0" x2="170.0" y2="452.5" stroke="#b5173f" stroke-width="1.1"/>
<line x1="167.4" y1="448.0" x2="172.6" y2="448.0" stroke="#b5173f" stroke-width="1.1"/>
<line x1="167.4" y1="452.5" x2="172.6" y2="452.5" stroke="#b5173f" stroke-width="1.1"/>
<line x1="201.3" y1="421.9" x2="201.3" y2="460.8" stroke="#b5173f" stroke-width="1.1"/>
<line x1="198.7" y1="421.9" x2="203.9" y2="421.9" stroke="#b5173f" stroke-width="1.1"/>
<line x1="198.7" y1="460.8" x2="203.9" y2="460.8" stroke="#b5173f" stroke-width="1.1"/>
<line x1="232.6" y1="430.0" x2="232.6" y2="444.0" stroke="#b5173f" stroke-width="1.1"/>
<line x1="230.0" y1="430.0" x2="235.2" y2="430.0" stroke="#b5173f" stroke-width="1.1"/>
<line x1="230.0" y1="444.0" x2="235.2" y2="444.0" stroke="#b5173f" stroke-width="1.1"/>
<line x1="263.9" y1="414.6" x2="263.9" y2="452.5" stroke="#b5173f" stroke-width="1.1"/>
<line x1="261.3" y1="414.6" x2="266.5" y2="414.6" stroke="#b5173f" stroke-width="1.1"/>
<line x1="261.3" y1="452.5" x2="266.5" y2="452.5" stroke="#b5173f" stroke-width="1.1"/>
<polyline points="80.6,445.8 107.4,463.8 138.7,446.5 170.0,450.3 201.3,429.6 232.6,435.2 263.9,422.3" fill="none" stroke="#b5173f" stroke-width="1.3" stroke-linejoin="round"/>
<path d="M80.6,442.7 L83.4,448.0 L77.8,448.0 Z" fill="#fff" stroke="#b5173f" stroke-width="1.1" stroke-linejoin="miter"/>
<path d="M107.4,460.7 L110.2,466.0 L104.6,466.0 Z" fill="#fff" stroke="#b5173f" stroke-width="1.1" stroke-linejoin="miter"/>
<path d="M138.7,443.4 L141.5,448.7 L135.9,448.7 Z" fill="#fff" stroke="#b5173f" stroke-width="1.1" stroke-linejoin="miter"/>
<path d="M170.0,447.2 L172.8,452.5 L167.2,452.5 Z" fill="#fff" stroke="#b5173f" stroke-width="1.1" stroke-linejoin="miter"/>
<path d="M201.3,426.5 L204.1,431.8 L198.5,431.8 Z" fill="#fff" stroke="#b5173f" stroke-width="1.1" stroke-linejoin="miter"/>
<path d="M232.6,432.1 L235.4,437.4 L229.8,437.4 Z" fill="#fff" stroke="#b5173f" stroke-width="1.1" stroke-linejoin="miter"/>
<path d="M263.9,419.2 L266.7,424.5 L261.1,424.5 Z" fill="#fff" stroke="#b5173f" stroke-width="1.1" stroke-linejoin="miter"/>
<line x1="281.8" y1="450.3" x2="302.8" y2="450.3" stroke="#7cbc5c" stroke-width="1.1"/>
<circle cx="292.5" cy="450.3" r="2.66" fill="#5da23b"/>
<text x="307.5" y="453.7" font-size="10" text-anchor="start" font-weight="normal" fill="#000" stroke="#000" stroke-width="0.12" textLength="83" lengthAdjust="spacingAndGlyphs" >iRC9-ΔCD19 Rim</text>
<line x1="281.8" y1="466.4" x2="302.8" y2="466.4" stroke="#27508c" stroke-width="1.1"/>
<rect x="290.1" y="464.0" width="4.8" height="4.8" fill="#27508c"/>
<text x="307.5" y="469.79999999999995" font-size="10" text-anchor="start" font-weight="normal" fill="#000" stroke="#000" stroke-width="0.12" textLength="102" lengthAdjust="spacingAndGlyphs" >iRC9-ΔCD19-iMCVeh</text>
<line x1="281.8" y1="482.8" x2="302.8" y2="482.8" stroke="#5a7db0" stroke-width="1.1"/>
<rect x="290.1" y="480.4" width="4.8" height="4.8" fill="#fff" stroke="#3d64a0" stroke-width="1.3"/>
<text x="307.5" y="486.2" font-size="10" text-anchor="start" font-weight="normal" fill="#000" stroke="#000" stroke-width="0.12" textLength="104" lengthAdjust="spacingAndGlyphs" >iRC9-ΔCD19-iMC Rim</text>
<line x1="281.8" y1="499.2" x2="302.8" y2="499.2" stroke="#b5173f" stroke-width="1.1"/>
<path d="M292.5,496.6 L295.0,500.9 L290.0,500.9 Z" fill="#b5173f"/>
<text x="307.5" y="502.59999999999997" font-size="10" text-anchor="start" font-weight="normal" fill="#000" stroke="#000" stroke-width="0.12" textLength="128" lengthAdjust="spacingAndGlyphs" >iRC9-IL15-ΔCD19-iMC Veh</text>
<line x1="281.8" y1="515.4" x2="302.8" y2="515.4" stroke="#b5173f" stroke-width="1.1"/>
<path d="M292.5,512.5 L295.2,517.5 L289.8,517.5 Z" fill="#fff" stroke="#b5173f" stroke-width="1.1" stroke-linejoin="miter"/>
<text x="307.5" y="518.8" font-size="10" text-anchor="start" font-weight="normal" fill="#000" stroke="#000" stroke-width="0.12" textLength="130.5" lengthAdjust="spacingAndGlyphs" >iRC9-IL15-ΔCD19-iMC Rim</text>
<text x="8.9" y="599.3" font-size="15.6" text-anchor="start" font-weight="bold" fill="#000" stroke="#000" stroke-width="0.3" >C</text>
<line x1="79.2" y1="605.3" x2="79.2" y2="755.3" stroke="#111" stroke-width="1.2"/>
<line x1="79.2" y1="716.3" x2="285.5" y2="716.3" stroke="#111" stroke-width="1.2"/>
<line x1="74.3" y1="609.2" x2="79.2" y2="609.2" stroke="#111" stroke-width="1"/>
<text x="70.8" y="612.8" font-size="10.5" text-anchor="end" font-weight="normal" fill="#000" stroke="#000" stroke-width="0.28" >30</text>
<line x1="74.3" y1="644.9" x2="79.2" y2="644.9" stroke="#111" stroke-width="1"/>
<text x="70.8" y="648.5" font-size="10.5" text-anchor="end" font-weight="normal" fill="#000" stroke="#000" stroke-width="0.28" >20</text>
<line x1="74.3" y1="680.6" x2="79.2" y2="680.6" stroke="#111" stroke-width="1"/>
<text x="70.8" y="684.1999999999999" font-size="10.5" text-anchor="end" font-weight="normal" fill="#000" stroke="#000" stroke-width="0.28" >10</text>
<line x1="74.3" y1="716.3" x2="79.2" y2="716.3" stroke="#111" stroke-width="1"/>
<text x="70.8" y="719.9" font-size="10.5" text-anchor="end" font-weight="normal" fill="#000" stroke="#000" stroke-width="0.28" >0</text>
<line x1="74.3" y1="752.0" x2="79.2" y2="752.0" stroke="#111" stroke-width="1"/>
<text x="70.8" y="755.6" font-size="10.5" text-anchor="end" font-weight="normal" fill="#000" stroke="#000" stroke-width="0.28" >-10</text>
<line x1="128.8" y1="716.3" x2="128.8" y2="719.8" stroke="#111" stroke-width="1"/>
<text x="128.8" y="733.8" font-size="10.5" text-anchor="middle" font-weight="normal" fill="#000" stroke="#000" stroke-width="0.28" >10</text>
<line x1="178.4" y1="716.3" x2="178.4" y2="719.8" stroke="#111" stroke-width="1"/>
<text x="178.4" y="733.8" font-size="10.5" text-anchor="middle" font-weight="normal" fill="#000" stroke="#000" stroke-width="0.28" >20</text>
<line x1="228.0" y1="716.3" x2="228.0" y2="719.8" stroke="#111" stroke-width="1"/>
<text x="228.0" y="733.8" font-size="10.5" text-anchor="middle" font-weight="normal" fill="#000" stroke="#000" stroke-width="0.28" >30</text>
<line x1="277.6" y1="716.3" x2="277.6" y2="719.8" stroke="#111" stroke-width="1"/>
<text x="277.6" y="733.8" font-size="10.5" text-anchor="middle" font-weight="normal" fill="#000" stroke="#000" stroke-width="0.28" >40</text>
<text x="180.8" y="771.2" font-size="11.8" text-anchor="middle" font-weight="bold" fill="#111" textLength="88.4" lengthAdjust="spacingAndGlyphs" >Days post NK injection</text>
<text x="0" y="0" font-size="12.2" text-anchor="middle" font-weight="bold" fill="#000" transform="translate(49.8,681) rotate(-90) scale(0.72,1)">Weight change (%)</text>
<line x1="109.0" y1="707.4" x2="109.0" y2="722.0" stroke="#3d64a0" stroke-width="1.0"/>
<line x1="106.6" y1="707.4" x2="111.4" y2="707.4" stroke="#3d64a0" stroke-width="1.0"/>
<line x1="106.6" y1="722.0" x2="111.4" y2="722.0" stroke="#3d64a0" stroke-width="1.0"/>
<line x1="143.7" y1="684.2" x2="143.7" y2="699.2" stroke="#3d64a0" stroke-width="1.0"/>
<line x1="141.3" y1="684.2" x2="146.1" y2="684.2" stroke="#3d64a0" stroke-width="1.0"/>
<line x1="141.3" y1="699.2" x2="146.1" y2="699.2" stroke="#3d64a0" stroke-width="1.0"/>
<line x1="178.4" y1="686.3" x2="178.4" y2="700.6" stroke="#3d64a0" stroke-width="1.0"/>
<line x1="176.0" y1="686.3" x2="180.8" y2="686.3" stroke="#3d64a0" stroke-width="1.0"/>
<line x1="176.0" y1="700.6" x2="180.8" y2="700.6" stroke="#3d64a0" stroke-width="1.0"/>
<line x1="213.1" y1="689.2" x2="213.1" y2="703.4" stroke="#3d64a0" stroke-width="1.0"/>
<line x1="210.7" y1="689.2" x2="215.5" y2="689.2" stroke="#3d64a0" stroke-width="1.0"/>
<line x1="210.7" y1="703.4" x2="215.5" y2="703.4" stroke="#3d64a0" stroke-width="1.0"/>
<line x1="247.8" y1="699.9" x2="247.8" y2="722.0" stroke="#3d64a0" stroke-width="1.0"/>
<line x1="245.4" y1="699.9" x2="250.2" y2="699.9" stroke="#3d64a0" stroke-width="1.0"/>
<line x1="245.4" y1="722.0" x2="250.2" y2="722.0" stroke="#3d64a0" stroke-width="1.0"/>
<line x1="282.6" y1="664.9" x2="282.6" y2="687.0" stroke="#3d64a0" stroke-width="1.0"/>
<line x1="280.2" y1="664.9" x2="285.0" y2="664.9" stroke="#3d64a0" stroke-width="1.0"/>
<line x1="280.2" y1="687.0" x2="285.0" y2="687.0" stroke="#3d64a0" stroke-width="1.0"/>
<polyline points="79.2,716.3 109.0,714.5 143.7,691.7 178.4,693.5 213.1,696.3 247.8,710.9 282.6,676.0" fill="none" stroke="#3d64a0" stroke-width="1.3" stroke-linejoin="round"/>
<rect x="76.7" y="713.8" width="5.0" height="5.0" fill="#fff" stroke="#3d64a0" stroke-width="1.3"/>
<rect x="106.5" y="712.0" width="5.0" height="5.0" fill="#fff" stroke="#3d64a0" stroke-width="1.3"/>
<rect x="141.2" y="689.2" width="5.0" height="5.0" fill="#fff" stroke="#3d64a0" stroke-width="1.3"/>
<rect x="175.9" y="691.0" width="5.0" height="5.0" fill="#fff" stroke="#3d64a0" stroke-width="1.3"/>
<rect x="210.6" y="693.8" width="5.0" height="5.0" fill="#fff" stroke="#3d64a0" stroke-width="1.3"/>
<rect x="245.3" y="708.4" width="5.0" height="5.0" fill="#fff" stroke="#3d64a0" stroke-width="1.3"/>
<rect x="280.1" y="673.5" width="5.0" height="5.0" fill="#fff" stroke="#3d64a0" stroke-width="1.3"/>
<line x1="109.0" y1="709.9" x2="109.0" y2="720.6" stroke="#b5173f" stroke-width="1.0"/>
<line x1="106.6" y1="709.9" x2="111.4" y2="709.9" stroke="#b5173f" stroke-width="1.0"/>
<line x1="106.6" y1="720.6" x2="111.4" y2="720.6" stroke="#b5173f" stroke-width="1.0"/>
<line x1="143.7" y1="687.0" x2="143.7" y2="704.9" stroke="#b5173f" stroke-width="1.0"/>
<line x1="141.3" y1="687.0" x2="146.1" y2="687.0" stroke="#b5173f" stroke-width="1.0"/>
<line x1="141.3" y1="704.9" x2="146.1" y2="704.9" stroke="#b5173f" stroke-width="1.0"/>
<line x1="178.4" y1="694.5" x2="178.4" y2="709.5" stroke="#b5173f" stroke-width="1.0"/>
<line x1="176.0" y1="694.5" x2="180.8" y2="694.5" stroke="#b5173f" stroke-width="1.0"/>
<line x1="176.0" y1="709.5" x2="180.8" y2="709.5" stroke="#b5173f" stroke-width="1.0"/>
<line x1="213.1" y1="676.3" x2="213.1" y2="691.3" stroke="#b5173f" stroke-width="1.0"/>
<line x1="210.7" y1="676.3" x2="215.5" y2="676.3" stroke="#b5173f" stroke-width="1.0"/>
<line x1="210.7" y1="691.3" x2="215.5" y2="691.3" stroke="#b5173f" stroke-width="1.0"/>
<line x1="247.8" y1="698.4" x2="247.8" y2="712.7" stroke="#b5173f" stroke-width="1.0"/>
<line x1="245.4" y1="698.4" x2="250.2" y2="698.4" stroke="#b5173f" stroke-width="1.0"/>
<line x1="245.4" y1="712.7" x2="250.2" y2="712.7" stroke="#b5173f" stroke-width="1.0"/>
<line x1="282.6" y1="687.0" x2="282.6" y2="736.3" stroke="#b5173f" stroke-width="1.0"/>
<line x1="280.2" y1="687.0" x2="285.0" y2="687.0" stroke="#b5173f" stroke-width="1.0"/>
<line x1="280.2" y1="736.3" x2="285.0" y2="736.3" stroke="#b5173f" stroke-width="1.0"/>
<polyline points="79.2,716.3 109.0,715.2 143.7,696.0 178.4,702.0 213.1,683.8 247.8,705.6 282.6,713.8" fill="none" stroke="#b5173f" stroke-width="1.3" stroke-linejoin="round"/>
<path d="M79.2,713.2 L82.0,718.5 L76.4,718.5 Z" fill="#fff" stroke="#b5173f" stroke-width="1.1" stroke-linejoin="miter"/>
<path d="M109.0,712.1 L111.8,717.5 L106.2,717.5 Z" fill="#fff" stroke="#b5173f" stroke-width="1.1" stroke-linejoin="miter"/>
<path d="M143.7,692.9 L146.5,698.2 L140.9,698.2 Z" fill="#fff" stroke="#b5173f" stroke-width="1.1" stroke-linejoin="miter"/>
<path d="M178.4,698.9 L181.2,704.3 L175.6,704.3 Z" fill="#fff" stroke="#b5173f" stroke-width="1.1" stroke-linejoin="miter"/>
<path d="M213.1,680.7 L215.9,686.1 L210.3,686.1 Z" fill="#fff" stroke="#b5173f" stroke-width="1.1" stroke-linejoin="miter"/>
<path d="M247.8,702.5 L250.6,707.8 L245.0,707.8 Z" fill="#fff" stroke="#b5173f" stroke-width="1.1" stroke-linejoin="miter"/>
<path d="M282.6,710.7 L285.4,716.0 L279.8,716.0 Z" fill="#fff" stroke="#b5173f" stroke-width="1.1" stroke-linejoin="miter"/>
<line x1="109.0" y1="699.9" x2="109.0" y2="712.0" stroke="#68b043" stroke-width="1.0"/>
<line x1="106.6" y1="699.9" x2="111.4" y2="699.9" stroke="#68b043" stroke-width="1.0"/>
<line x1="106.6" y1="712.0" x2="111.4" y2="712.0" stroke="#68b043" stroke-width="1.0"/>
<line x1="143.7" y1="686.7" x2="143.7" y2="703.1" stroke="#68b043" stroke-width="1.0"/>
<line x1="141.3" y1="686.7" x2="146.1" y2="686.7" stroke="#68b043" stroke-width="1.0"/>
<line x1="141.3" y1="703.1" x2="146.1" y2="703.1" stroke="#68b043" stroke-width="1.0"/>
<line x1="178.4" y1="694.5" x2="178.4" y2="706.7" stroke="#68b043" stroke-width="1.0"/>
<line x1="176.0" y1="694.5" x2="180.8" y2="694.5" stroke="#68b043" stroke-width="1.0"/>
<line x1="176.0" y1="706.7" x2="180.8" y2="706.7" stroke="#68b043" stroke-width="1.0"/>
<line x1="213.1" y1="685.2" x2="213.1" y2="697.4" stroke="#68b043" stroke-width="1.0"/>
<line x1="210.7" y1="685.2" x2="215.5" y2="685.2" stroke="#68b043" stroke-width="1.0"/>
<line x1="210.7" y1="697.4" x2="215.5" y2="697.4" stroke="#68b043" stroke-width="1.0"/>
<line x1="247.8" y1="690.6" x2="247.8" y2="702.0" stroke="#68b043" stroke-width="1.0"/>
<line x1="245.4" y1="690.6" x2="250.2" y2="690.6" stroke="#68b043" stroke-width="1.0"/>
<line x1="245.4" y1="702.0" x2="250.2" y2="702.0" stroke="#68b043" stroke-width="1.0"/>
<line x1="282.6" y1="672.7" x2="282.6" y2="689.2" stroke="#68b043" stroke-width="1.0"/>
<line x1="280.2" y1="672.7" x2="285.0" y2="672.7" stroke="#68b043" stroke-width="1.0"/>
<line x1="280.2" y1="689.2" x2="285.0" y2="689.2" stroke="#68b043" stroke-width="1.0"/>
<polyline points="79.2,716.3 109.0,705.9 143.7,694.9 178.4,700.6 213.1,691.3 247.8,696.3 282.6,681.0" fill="none" stroke="#68b043" stroke-width="1.3" stroke-linejoin="round"/>
<circle cx="79.2" cy="716.3" r="2.80" fill="#5da23b"/>
<circle cx="109.0" cy="705.9" r="2.80" fill="#5da23b"/>
<circle cx="143.7" cy="694.9" r="2.80" fill="#5da23b"/>
<circle cx="178.4" cy="700.6" r="2.80" fill="#5da23b"/>
<circle cx="213.1" cy="691.3" r="2.80" fill="#5da23b"/>
<circle cx="247.8" cy="696.3" r="2.80" fill="#5da23b"/>
<circle cx="282.6" cy="681.0" r="2.80" fill="#5da23b"/>
<line x1="109.0" y1="686.0" x2="109.0" y2="700.9" stroke="#27508c" stroke-width="1.0"/>
<line x1="106.6" y1="686.0" x2="111.4" y2="686.0" stroke="#27508c" stroke-width="1.0"/>
<line x1="106.6" y1="700.9" x2="111.4" y2="700.9" stroke="#27508c" stroke-width="1.0"/>
<line x1="143.7" y1="653.8" x2="143.7" y2="696.7" stroke="#27508c" stroke-width="1.0"/>
<line x1="141.3" y1="653.8" x2="146.1" y2="653.8" stroke="#27508c" stroke-width="1.0"/>
<line x1="141.3" y1="696.7" x2="146.1" y2="696.7" stroke="#27508c" stroke-width="1.0"/>
<line x1="178.4" y1="667.7" x2="178.4" y2="697.7" stroke="#27508c" stroke-width="1.0"/>
<line x1="176.0" y1="667.7" x2="180.8" y2="667.7" stroke="#27508c" stroke-width="1.0"/>
<line x1="176.0" y1="697.7" x2="180.8" y2="697.7" stroke="#27508c" stroke-width="1.0"/>
<line x1="213.1" y1="679.2" x2="213.1" y2="699.2" stroke="#27508c" stroke-width="1.0"/>
<line x1="210.7" y1="679.2" x2="215.5" y2="679.2" stroke="#27508c" stroke-width="1.0"/>
<line x1="210.7" y1="699.2" x2="215.5" y2="699.2" stroke="#27508c" stroke-width="1.0"/>
<line x1="247.8" y1="679.9" x2="247.8" y2="699.2" stroke="#27508c" stroke-width="1.0"/>
<line x1="245.4" y1="679.9" x2="250.2" y2="679.9" stroke="#27508c" stroke-width="1.0"/>
<line x1="245.4" y1="699.2" x2="250.2" y2="699.2" stroke="#27508c" stroke-width="1.0"/>
<line x1="282.6" y1="650.3" x2="282.6" y2="686.7" stroke="#27508c" stroke-width="1.0"/>
<line x1="280.2" y1="650.3" x2="285.0" y2="650.3" stroke="#27508c" stroke-width="1.0"/>
<line x1="280.2" y1="686.7" x2="285.0" y2="686.7" stroke="#27508c" stroke-width="1.0"/>
<polyline points="79.2,716.3 109.0,693.5 143.7,675.2 178.4,682.7 213.1,689.2 247.8,689.5 282.6,668.5" fill="none" stroke="#27508c" stroke-width="1.3" stroke-linejoin="round"/>
<rect x="76.7" y="713.8" width="5.0" height="5.0" fill="#27508c"/>
<rect x="106.5" y="691.0" width="5.0" height="5.0" fill="#27508c"/>
<rect x="141.2" y="672.7" width="5.0" height="5.0" fill="#27508c"/>
<rect x="175.9" y="680.2" width="5.0" height="5.0" fill="#27508c"/>
<rect x="210.6" y="686.7" width="5.0" height="5.0" fill="#27508c"/>
<rect x="245.3" y="687.0" width="5.0" height="5.0" fill="#27508c"/>
<rect x="280.1" y="666.0" width="5.0" height="5.0" fill="#27508c"/>
<line x1="109.0" y1="690.6" x2="109.0" y2="703.4" stroke="#b5173f" stroke-width="1.0"/>
<line x1="106.6" y1="690.6" x2="111.4" y2="690.6" stroke="#b5173f" stroke-width="1.0"/>
<line x1="106.6" y1="703.4" x2="111.4" y2="703.4" stroke="#b5173f" stroke-width="1.0"/>
<line x1="143.7" y1="670.6" x2="143.7" y2="688.5" stroke="#b5173f" stroke-width="1.0"/>
<line x1="141.3" y1="670.6" x2="146.1" y2="670.6" stroke="#b5173f" stroke-width="1.0"/>
<line x1="141.3" y1="688.5" x2="146.1" y2="688.5" stroke="#b5173f" stroke-width="1.0"/>
<line x1="178.4" y1="669.2" x2="178.4" y2="685.6" stroke="#b5173f" stroke-width="1.0"/>
<line x1="176.0" y1="669.2" x2="180.8" y2="669.2" stroke="#b5173f" stroke-width="1.0"/>
<line x1="176.0" y1="685.6" x2="180.8" y2="685.6" stroke="#b5173f" stroke-width="1.0"/>
<line x1="213.1" y1="671.3" x2="213.1" y2="689.9" stroke="#b5173f" stroke-width="1.0"/>
<line x1="210.7" y1="671.3" x2="215.5" y2="671.3" stroke="#b5173f" stroke-width="1.0"/>
<line x1="210.7" y1="689.9" x2="215.5" y2="689.9" stroke="#b5173f" stroke-width="1.0"/>
<line x1="247.8" y1="669.9" x2="247.8" y2="686.3" stroke="#b5173f" stroke-width="1.0"/>
<line x1="245.4" y1="669.9" x2="250.2" y2="669.9" stroke="#b5173f" stroke-width="1.0"/>
<line x1="245.4" y1="686.3" x2="250.2" y2="686.3" stroke="#b5173f" stroke-width="1.0"/>
<line x1="282.6" y1="659.2" x2="282.6" y2="672.7" stroke="#b5173f" stroke-width="1.0"/>
<line x1="280.2" y1="659.2" x2="285.0" y2="659.2" stroke="#b5173f" stroke-width="1.0"/>
<line x1="280.2" y1="672.7" x2="285.0" y2="672.7" stroke="#b5173f" stroke-width="1.0"/>
<polyline points="79.2,716.3 109.0,697.0 143.7,679.5 178.4,677.4 213.1,680.6 247.8,678.1 282.6,666.0" fill="none" stroke="#b5173f" stroke-width="1.3" stroke-linejoin="round"/>
<path d="M79.2,713.6 L81.8,718.1 L76.6,718.1 Z" fill="#b5173f"/>
<path d="M109.0,694.3 L111.6,698.8 L106.4,698.8 Z" fill="#b5173f"/>
<path d="M143.7,676.8 L146.3,681.3 L141.1,681.3 Z" fill="#b5173f"/>
<path d="M178.4,674.7 L181.0,679.2 L175.8,679.2 Z" fill="#b5173f"/>
<path d="M213.1,677.9 L215.7,682.4 L210.5,682.4 Z" fill="#b5173f"/>
<path d="M247.8,675.4 L250.4,679.9 L245.2,679.9 Z" fill="#b5173f"/>
<path d="M282.6,663.2 L285.2,667.8 L280.0,667.8 Z" fill="#b5173f"/>
<line x1="297.2" y1="656.3" x2="318.2" y2="656.3" stroke="#7cbc5c" stroke-width="1.1"/>
<circle cx="307.9" cy="656.3" r="2.66" fill="#5da23b"/>
<text x="322.9" y="659.6999999999999" font-size="10" text-anchor="start" font-weight="normal" fill="#000" stroke="#000" stroke-width="0.12" textLength="83" lengthAdjust="spacingAndGlyphs" >iRC9-ΔCD19 Rim</text>
<line x1="297.2" y1="672.9" x2="318.2" y2="672.9" stroke="#27508c" stroke-width="1.1"/>
<rect x="305.5" y="670.5" width="4.8" height="4.8" fill="#27508c"/>
<text x="322.9" y="676.3" font-size="10" text-anchor="start" font-weight="normal" fill="#000" stroke="#000" stroke-width="0.12" textLength="102" lengthAdjust="spacingAndGlyphs" >iRC9-ΔCD19-iMCVeh</text>
<line x1="297.2" y1="689.2" x2="318.2" y2="689.2" stroke="#5a7db0" stroke-width="1.1"/>
<rect x="305.5" y="686.8" width="4.8" height="4.8" fill="#fff" stroke="#3d64a0" stroke-width="1.3"/>
<text x="322.9" y="692.6" font-size="10" text-anchor="start" font-weight="normal" fill="#000" stroke="#000" stroke-width="0.12" textLength="104" lengthAdjust="spacingAndGlyphs" >iRC9-ΔCD19-iMC Rim</text>
<line x1="297.2" y1="705.2" x2="318.2" y2="705.2" stroke="#b5173f" stroke-width="1.1"/>
<path d="M307.9,702.6 L310.4,706.9 L305.4,706.9 Z" fill="#b5173f"/>
<text x="322.9" y="708.6" font-size="10" text-anchor="start" font-weight="normal" fill="#000" stroke="#000" stroke-width="0.12" textLength="128" lengthAdjust="spacingAndGlyphs" >iRC9-IL15-ΔCD19-iMC Veh</text>
<line x1="297.2" y1="722.0" x2="318.2" y2="722.0" stroke="#b5173f" stroke-width="1.1"/>
<path d="M307.9,719.1 L310.6,724.1 L305.2,724.1 Z" fill="#fff" stroke="#b5173f" stroke-width="1.1" stroke-linejoin="miter"/>
<text x="322.9" y="725.4" font-size="10" text-anchor="start" font-weight="normal" fill="#000" stroke="#000" stroke-width="0.12" textLength="130.5" lengthAdjust="spacingAndGlyphs" >iRC9-IL15-ΔCD19-iMC Rim</text>
<rect x="0.5" y="0.5" width="519" height="783" fill="none" stroke="#000" stroke-width="1"/>
<rect x="1.5" y="1.5" width="517" height="781" fill="none" stroke="#000" stroke-opacity="0.15" stroke-width="1"/>
</svg>
</body></html>
